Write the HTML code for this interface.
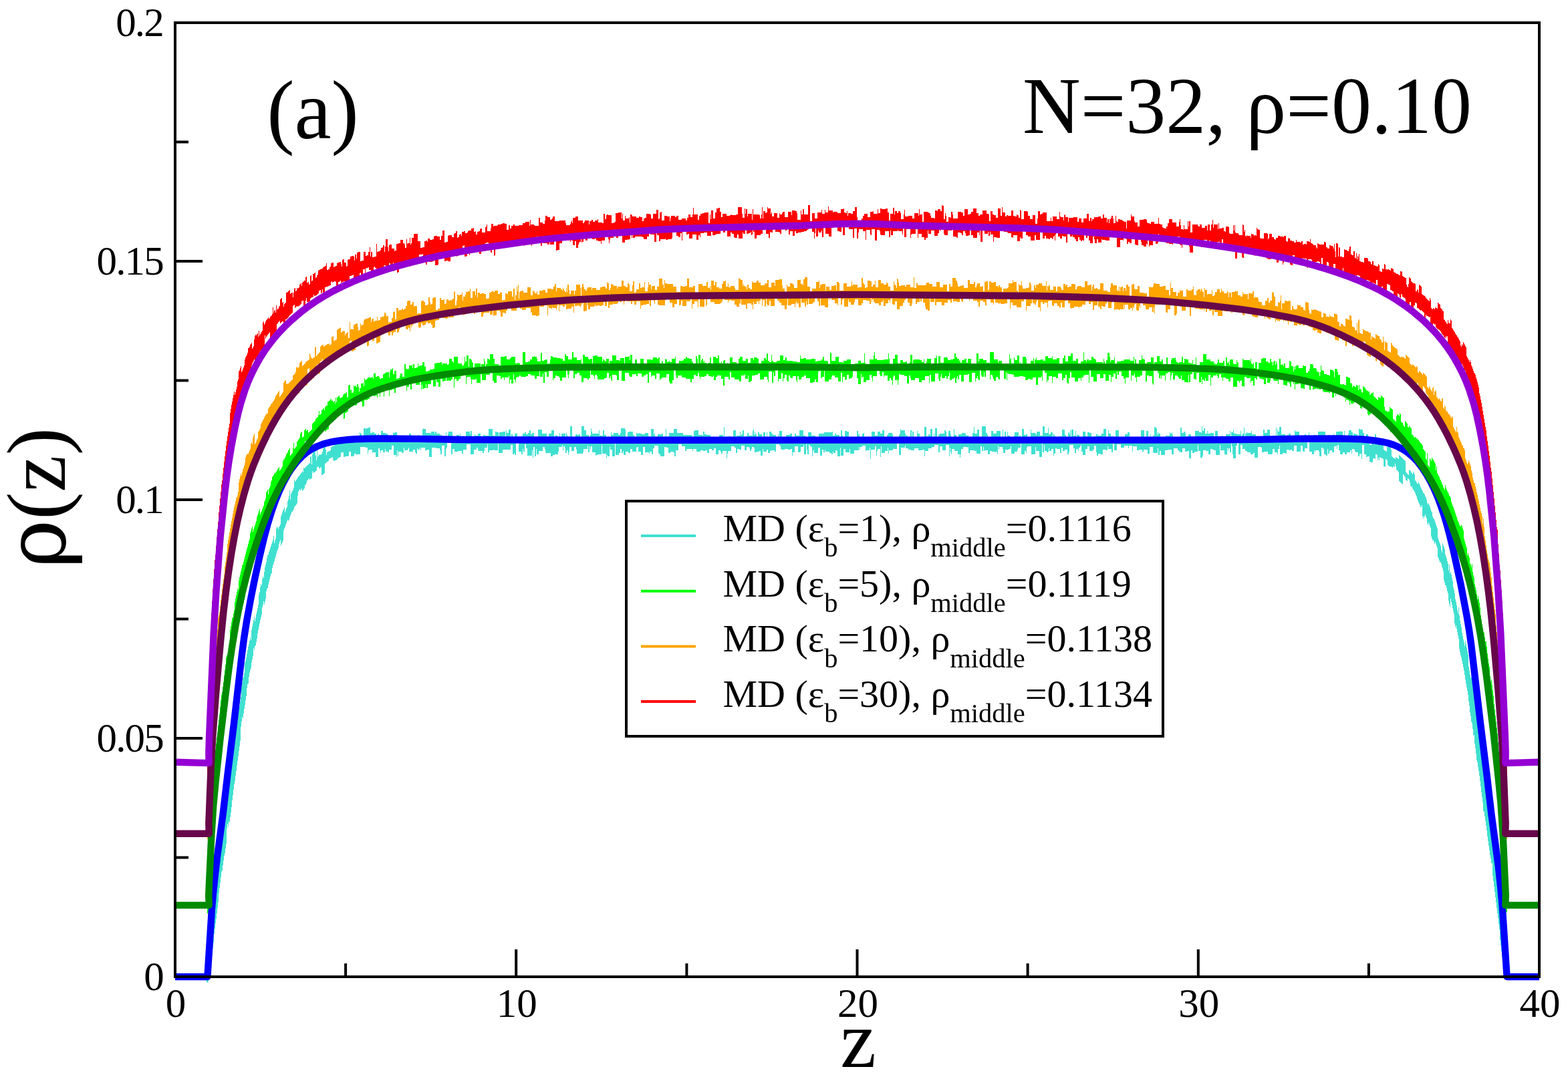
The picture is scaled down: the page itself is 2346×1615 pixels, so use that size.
<!DOCTYPE html>
<html><head><meta charset="utf-8"><style>html,body{margin:0;padding:0;background:#fff;overflow:hidden}svg{display:block}</style></head><body>
<svg width="2346" height="1615" viewBox="0 0 2346 1615">
<defs><clipPath id="c"><rect x="262" y="0" width="2041" height="1615"/></clipPath></defs>
<g clip-path="url(#c)" fill="none" stroke-linejoin="round">
<path d="M309,1447h1V1429h1V1418h1V1407h1V1398h1V1393h1V1384h1V1376h1V1362h1V1354h1V1346h1V1338h1V1330h1V1323h1V1315h1V1306h1V1298h1V1292h1V1284h1V1271h1V1263h1V1256h1V1249h1V1242h1V1235h1V1232h1V1225h1V1218h1V1211h1V1204h1V1191h1V1184h1V1177h1V1169h1V1161h1V1159h1V1150h1V1142h1V1132h1V1124h1V1117h1V1109h1V1102h1V1095h1V1087h2V1079h1V1068h1V1060h1V1057h1V1050h1V1043h1V1028h1V1021h1V1015h1V1013h1V1007h1V992h1V989h1V984h1V979h1V973h1V968h1V964h1V959h1V954h1V958h1V943h1V938h1V933h1V928h1V923h1V930h1V925h1V919h1V915h1V910h1V905h1V890h1V886h1V879h1V874h1V876h1V867h1V863h1V865h1V856h1V849h1V845h1V841h1V835h1V831h1V830h1V826h1V823h1V820h1V817h1V814h1V811h1V808h1V802h1V813h1V809h1V806h1V791h1V788h1V790h1V792h1V789h1V787h1V785h1V773h1V770h1V767h1V764h1V762h1V759h1V767h1V764h1V761h1V759h1V750h1V747h1V742h1V734h1V748h1V739h1V737h1V735h1V733h1V730h1V718h1V721h1V720h1V718h1V717h1V715h1V713h2V711h1V710h1V708h1V707h1V705h1V707h1V700h1V701h1V700h1V699h1V698h1V697h1V696h1V695h1V693h1V694h1V684h1V683h1V695h1V680h1V676h1V675h1V674h1V673h1V682h1V689h1V674h1V684h1V682h1V681h1V680h1V681h1V680h1V679h1V676h1V672h1V667h3V673h1V681h1V677h1V676h2V675h2V674h1V669h2V668h2V667h2V660h2V659h1V655h2V657h2V656h2V660h2V659h3V658h1V661h2V660h1V659h2V658h3V661h1V655h3V653h2V652h3V663h1V653h4V647h1V649h2V655h3V641h3V642h1V641h3V640h2V639h1V648h3V647h3V649h3V657h2V650h1V649h1V652h3V645h3V648h4V649h3V652h6V653h2V648h3V647h3V657h5V654h7V653h4V654h2V649h3V656h5V655h5V651h2V657h2V658h3V642h5V648h7V649h1V646h5V649h1V646h2V649h5V651h3V655h6V647h1V656h2V649h1V646h6V653h6V651h4V662h1V649h1V654h4V658h2V655h2V646h6V650h1V645h2V660h4V650h1V652h4V649h4V655h3V658h1V651h3V652h5V642h6V652h4V646h2V647h3V652h1V647h5V646h4V653h1V644h1V648h3V643h3V657h1V650h2V656h3V649h4V656h6V652h1V660h1V649h3V647h2V650h3V648h2V644h2V650h2V648h3V656h6V643h6V649h7V653h2V654h1V649h4V644h4V653h2V651h1V652h2V656h3V648h1V657h2V649h6V659h1V648h1V651h1V653h2V654h2V638h3V654h5V650h2V651h3V650h2V654h2V638h4V644h3V651h4V655h2V651h1V641h1V646h1V649h10V644h1V652h5V644h2V651h3V654h3V653h1V663h3V647h1V651h3V648h7V651h3V648h1V641h6V643h1V661h3V647h2V646h6V651h2V658h3V648h1V649h3V648h1V649h3V650h5V648h5V653h4V642h4V651h1V648h1V653h4V650h6V649h2V657h1V653h3V642h1V662h2V653h2V648h7V642h5V648h9V651h13V653h3V645h2V644h5V651h6V652h1V646h2V650h3V651h6V657h2V656h6V657h5V651h6V659h1V639h1V658h2V654h2V653h6V658h3V644h4V654h1V652h5V646h1V652h1V650h2V644h2V653h5V648h2V652h6V645h1V642h1V651h1V647h1V650h2V656h2V647h2V650h4V663h2V647h3V654h2V647h1V658h3V646h3V649h2V651h5V658h3V650h1V657h1V645h4V661h6V651h6V649h3V656h3V654h1V649h2V652h5V644h6V652h3V657h4V647h5V652h6V656h5V649h8V647h12V646h1V652h3V649h2V651h5V657h2V644h2V652h1V658h3V645h3V646h3V659h6V655h2V656h4V645h2V651h1V649h1V656h4V649h2V648h1V658h2V654h2V658h2V654h5V646h5V652h4V646h4V649h3V644h3V654h4V651h2V648h6V650h1V659h1V655h4V657h3V655h1V651h1V649h1V642h1V644h6V649h1V652h3V655h1V656h3V644h2V660h1V646h2V654h5V645h1V649h3V659h6V663h1V639h3V653h3V650h2V652h1V642h3V656h2V649h1V657h1V641h3V655h2V650h1V651h1V649h7V644h2V646h1V658h3V645h3V650h1V656h3V657h1V642h1V651h3V657h3V650h5V648h5V649h1V652h3V651h1V654h6V648h2V639h1V649h4V643h3V659h2V656h2V638h6V648h2V651h1V663h5V645h3V649h5V645h6V658h3V643h1V654h2V646h2V656h2V646h1V652h3V655h3V660h3V652h1V647h6V657h1V652h2V656h2V642h3V651h3V650h2V654h5V643h1V648h6V649h1V651h1V646h5V652h4V638h3V648h5V640h1V650h3V647h3V655h1V649h1V651h1V653h2V654h3V653h6V643h4V651h2V657h3V648h1V647h1V650h1V644h1V656h1V643h3V653h1V652h2V645h1V659h1V651h4V658h5V646h4V652h1V653h2V647h3V648h3V655h3V653h4V650h1V649h1V652h6V649h3V642h4V654h3V644h1V649h3V653h4V658h3V644h5V655h3V656h4V654h2V650h4V647h3V655h3V660h1V656h1V657h1V654h6V660h1V654h1V657h3V644h5V656h2V655h1V645h3V654h3V650h1V657h3V652h2V639h2V641h2V651h1V647h1V649h3V657h3V654h5V652h6V647h1V649h2V647h1V651h1V655h6V663h5V640h2V648h3V646h2V648h1V653h4V650h4V654h3V656h3V645h6V647h3V648h1V638h1V645h2V641h2V649h3V645h1V649h4V648h5V656h2V645h4V659h6V651h1V655h5V650h6V645h1V658h1V647h3V643h1V649h4V650h6V645h1V654h1V651h1V649h2V640h1V654h1V649h2V647h1V648h6V645h1V650h6V657h4V656h6V655h1V643h2V648h4V643h4V655h3V653h1V652h5V640h1V657h1V643h1V646h2V639h3V650h6V657h2V651h3V649h3V656h6V644h1V646h6V659h3V655h5V650h2V662h2V656h2V647h1V658h4V655h3V651h4V654h2V646h11V654h3V651h3V657h6V649h1V652h3V646h6V645h1V646h3V656h2V645h1V654h5V649h1V644h4V647h2V653h1V649h3V650h3V654h2V642h2V643h4V648h2V659h2V660h1V650h3V654h2V665h1V666h2V663h1V664h2V665h2V650h2V662h1V663h3V664h1V658h1V659h1V665h1V666h2V667h1V673h1V674h1V675h2V676h1V669h2V668h1V669h1V670h2V673h1V683h1V684h1V685h1V686h2V687h1V684h1V685h1V686h2V687h1V681h1V682h1V683h1V684h1V685h1V686h1V687h1V688h1V689h1V690h1V706h1V708h1V709h1V710h1V711h1V703h1V704h1V705h1V707h1V708h1V710h1V706h1V708h1V710h1V719h1V720h1V722h1V724h2V721h1V724h1V726h1V729h1V731h1V733h1V735h1V738h2V740h1V743h1V745h1V748h1V753h1V755h1V753h1V756h1V759h1V762h1V765h1V767h1V773h1V776h2V779h1V782h1V785h1V788h1V791h1V805h1V808h1V811h1V814h1V817h1V823h1V827h1V813h1V816h1V819h1V822h1V830h1V833h1V836h1V840h1V844h1V854h1V845h1V858h1V856h1V860h1V865h1V870h1V879h1V883h1V888h1V897h1V901h1V906h1V913h1V918h1V909h1V921h1V929h1V934h1V939h1V947h1V952h1V957h1V962h1V967h1V959h1V964h1V969h1V974h1V980h1V998h1V1004h1V1010h1V1015h1V1013h1V1019h1V1026h1V1033h1V1040h1V1047h1V1056h1V1064h1V1072h1V1080h1V1088h1V1096h1V1104h1V1111h1V1119h1V1126h1V1134h1V1141h1V1148h1V1157h1V1165h1V1173h1V1180h1V1188h1V1194h1V1203h1V1208h1V1215h1V1222h1V1229h1V1239h1V1246h1V1253h1V1260h1V1267h1V1274h1V1282h1V1289h1V1297h1V1305h1V1314h1V1322h1V1330h1V1338h1V1346h1V1354h1V1362h1V1372h1V1380h2V1390h1V1399h1V1409h1V1420h1V1440h1V1463h-2V1464h-1V1462h-1V1454h-1V1445h-1V1443h-1V1434h-1V1433h-1V1424h-1V1415h-1V1407h-1V1391h-1V1383h-1V1374h-1V1367h-1V1359h-1V1351h-1V1343h-1V1335h-1V1327h-1V1319h-1V1311h-1V1292h-2V1285h-1V1280h-1V1273h-1V1266h-1V1259h-1V1252h-1V1243h-1V1236h-1V1229h-1V1222h-1V1215h-1V1214h-1V1201h-1V1193h-1V1186h-1V1177h-1V1169h-1V1161h-1V1154h-1V1148h-1V1141h-1V1138h-1V1128h-1V1120h-1V1113h-1V1100h-1V1101h-1V1091h-1V1083h-1V1080h-1V1072h-1V1066h-1V1056h-1V1050h-1V1040h-1V1034h-1V1029h-1V1023h-1V1017h-1V1010h-1V1004h-1V999h-1V994h-1V989h-1V984h-1V981h-1V976h-1V971h-1V956h-1V951h-1V946h-1V941h-1V936h-1V939h-1V933h-1V919h-1V915h-1V910h-1V905h-1V901h-1V896h-1V908h-1V904h-1V899h-1V888h-1V885h-1V880h-1V876h-2V872h-1V868h-1V855h-1V851h-1V848h-1V844h-1V841h-1V842h-1V839h-1V836h-1V834h-1V820h-1V817h-1V814h-1V811h-1V814h-1V811h-1V808h-1V809h-1V806h-1V803h-1V790h-1V788h-1V785h-1V782h-1V786h-1V783h-1V776h-1V773h-1V770h-1V774h-1V772h-1V776h-1V773h-1V756h-1V759h-2V756h-1V754h-1V752h-1V749h-1V747h-1V743h-1V741h-1V738h-1V736h-1V734h-1V733h-1V731h-1V728h-1V729h-1V727h-1V722h-1V718h-1V717h-1V716h-1V720h-1V719h-2V714h-1V713h-1V711h-1V710h-1V725h-1V724h-1V723h-1V722h-1V721h-1V720h-1V707h-1V705h-1V704h-1V703h-1V698h-1V694h-1V699h-1V698h-2V700h-1V699h-1V698h-1V699h-1V698h-2V697h-1V696h-1V689h-1V688h-1V687h-1V699h-1V698h-2V687h-1V686h-2V685h-2V684h-1V689h-1V685h-1V689h-1V681h-1V680h-2V687h-1V686h-3V692h-3V691h-2V683h-3V684h-2V680h-3V666h-3V687h-1V679h-3V683h-2V677h-3V676h-2V673h-1V672h-3V679h-1V674h-2V677h-5V680h-3V677h-3V680h-4V674h-2V666h-2V672h-1V667h-1V668h-3V677h-3V674h-3V675h-1V679h-2V672h-1V682h-2V680h-3V671h-1V673h-1V670h-2V683h-3V676h-1V674h-5V677h-1V674h-1V680h-3V676h-4V662h-3V671h-4V676h-2V675h-1V667h-3V676h-6V667h-4V675h-3V673h-2V674h-2V673h-4V679h-2V678h-4V680h-4V667h-1V672h-2V680h-1V677h-4V672h-3V679h-1V680h-6V676h-6V677h-3V670h-1V669h-5V685h-5V678h-2V680h-4V677h-5V675h-3V672h-4V666h-3V680h-3V663h-2V667h-2V686h-4V680h-1V668h-1V664h-1V677h-2V671h-2V675h-1V671h-1V681h-1V680h-3V674h-6V666h-1V681h-6V674h-3V673h-2V672h-3V680h-3V675h-4V673h-1V674h-3V682h-1V685h-3V675h-3V666h-1V676h-5V678h-3V674h-2V686h-3V675h-3V676h-3V671h-4V677h-3V676h-2V674h-2V671h-6V680h-3V673h-6V674h-4V681h-6V675h-2V681h-2V671h-1V678h-6V677h-1V669h-5V679h-3V673h-6V676h-2V673h-5V674h-3V668h-6V676h-1V667h-5V671h-1V667h-6V670h-5V665h-6V674h-4V664h-2V677h-2V672h-5V668h-1V674h-2V673h-5V680h-4V679h-3V682h-2V677h-1V667h-3V673h-2V675h-5V668h-3V672h-3V681h-4V676h-2V666h-1V668h-1V670h-2V675h-1V672h-3V678h-2V671h-2V666h-6V677h-1V680h-2V673h-4V675h-3V670h-2V678h-2V672h-5V671h-2V679h-2V682h-1V672h-3V675h-3V671h-1V676h-1V677h-2V675h-3V666h-1V677h-2V662h-1V684h-4V675h-5V669h-1V680h-6V668h-6V670h-1V678h-1V675h-2V680h-5V664h-1V670h-4V673h-1V676h-4V679h-5V668h-1V672h-3V673h-5V678h-3V672h-1V669h-5V673h-1V667h-1V680h-1V676h-2V677h-1V676h-5V675h-3V680h-3V674h-5V675h-1V669h-1V675h-2V668h-2V679h-6V675h-3V674h-7V678h-2V669h-1V670h-1V669h-6V672h-3V680h-1V685h-1V680h-3V675h-5V672h-4V680h-1V677h-1V670h-1V683h-1V666h-5V674h-5V668h-4V677h-2V666h-6V669h-4V671h-5V675h-5V683h-1V673h-3V674h-6V671h-6V674h-5V673h-4V671h-4V667h-1V670h-6V681h-3V664h-3V672h-6V674h-6V679h-1V670h-1V675h-4V678h-5V668h-1V684h-1V672h-4V675h-1V682h-1V668h-2V673h-6V687h-1V670h-1V674h-5V675h-1V667h-5V669h-3V673h-1V669h-1V674h-7V679h-6V672h-1V677h-6V672h-3V682h-4V670h-1V683h-4V675h-1V674h-2V678h-3V676h-1V680h-2V678h-3V676h-6V673h-1V677h-2V673h-2V682h-3V670h-3V678h-6V673h-1V675h-1V683h-1V669h-1V668h-2V666h-2V680h-2V673h-1V665h-1V680h-3V666h-1V669h-4V676h-1V677h-3V668h-5V677h-3V682h-1V672h-2V673h-4V672h-5V673h-5V672h-1V667h-2V665h-5V676h-2V674h-6V675h-1V678h-3V673h-2V676h-5V672h-1V682h-3V675h-2V676h-4V677h-3V671h-1V669h-3V672h-1V675h-2V671h-1V669h-4V674h-3V667h-5V673h-3V672h-3V678h-2V670h-2V668h-5V675h-5V679h-1V686h-1V675h-6V679h-2V676h-1V674h-3V680h-4V671h-3V674h-3V672h-4V678h-3V674h-3V675h-3V674h-4V676h-6V672h-5V675h-1V672h-9V675h-2V668h-5V665h-5V674h-4V683h-2V677h-2V676h-4V678h-3V670h-3V669h-3V683h-6V680h-2V678h-1V667h-6V671h-2V680h-2V676h-3V679h-1V677h-6V669h-3V681h-3V676h-4V669h-2V670h-1V676h-6V672h-3V678h-3V676h-4V681h-3V675h-1V678h-2V672h-2V678h-2V681h-5V661h-1V683h-4V673h-3V669h-1V683h-3V681h-1V686h-1V679h-6V666h-1V680h-6V681h-2V682h-1V677h-5V668h-2V672h-1V668h-1V677h-2V667h-1V672h-6V677h-1V679h-9V673h-1V669h-3V675h-4V669h-3V677h-1V681h-1V674h-2V678h-2V671h-1V668h-2V674h-1V666h-1V669h-5V676h-1V680h-5V681h-3V683h-3V678h-6V679h-1V677h-1V672h-1V669h-3V675h-6V680h-3V672h-1V683h-2V669h-2V685h-1V674h-1V682h-7V671h-2V665h-2V676h-2V672h-1V680h-2V676h-4V661h-4V681h-2V678h-1V680h-2V666h-3V673h-12V678h-6V664h-1V674h-6V673h-1V674h-6V677h-2V665h-1V670h-4V675h-1V678h-2V675h-6V674h-1V670h-2V673h-4V680h-5V665h-6V673h-5V679h-2V675h-6V676h-5V672h-3V680h-2V661h-5V662h-1V670h-1V672h-1V683h-2V667h-4V680h-2V674h-1V671h-6V670h-6V684h-4V673h-3V674h-3V670h-6V674h-1V670h-1V673h-3V671h-1V679h-2V677h-1V673h-3V676h-6V670h-1V672h-1V674h-5V670h-1V677h-1V678h-2V676h-5V682h-1V674h-1V684h-1V681h-4V667h-3V673h-4V678h-1V676h-3V675h-1V672h-1V677h-3V674h-3V678h-1V674h-1V671h-2V684h-4V677h-4V678h-1V673h-5V674h-1V679h-1V670h-3V669h-8V680h-5V681h-1V679h-3V682h-1V683h-4V676h-3V682h-1V683h-5V684h-2V677h-3V678h-1V684h-2V685h-2V686h-1V688h-2V689h-2V690h-2V688h-1V684h-1V685h-2V686h-2V687h-1V690h-1V691h-2V692h-1V693h-1V694h-1V708h-1V709h-1V710h-1V711h-2V699h-1V700h-1V701h-2V698h-1V699h-2V704h-1V705h-1V706h-1V707h-2V708h-1V705h-1V716h-2V717h-1V718h-1V716h-1V717h-1V719h-2V723h-1V725h-1V726h-1V731h-1V732h-1V734h-1V735h-1V731h-1V733h-1V734h-1V732h-1V734h-1V736h-1V742h-1V753h-1V755h-1V757h-2V759h-1V762h-1V764h-1V766h-2V769h-1V772h-1V774h-1V778h-1V780h-1V778h-1V780h-1V783h-1V786h-1V789h-1V791h-1V794h-1V809h-1V812h-1V814h-1V817h-1V808h-1V811h-1V814h-1V820h-1V823h-1V825h-1V829h-1V833h-1V836h-1V840h-1V843h-1V846h-1V850h-1V858h-1V859h-1V863h-1V867h-1V871h-1V875h-1V880h-1V881h-1V885h-1V896h-1V901h-1V905h-1V900h-1V905h-1V909h-1V920h-1V924h-1V928h-1V933h-1V938h-1V943h-1V948h-1V956h-1V961h-1V966h-1V967h-1V973h-1V970h-1V982h-1V987h-1V992h-1V1000h-1V1003h-1V1007h-1V1013h-1V1023h-1V1024h-1V1030h-1V1042h-1V1048h-1V1055h-1V1061h-1V1068h-1V1075h-1V1073h-1V1080h-1V1088h-1V1109h-1V1117h-1V1124h-1V1132h-1V1139h-1V1146h-1V1154h-1V1161h-1V1169h-1V1174h-1V1182h-1V1190h-1V1198h-1V1208h-1V1216h-1V1223h-1V1230h-2V1237h-1V1233h-1V1240h-1V1263h-1V1270h-1V1277h-1V1281h-1V1288h-1V1295h-1V1303h-1V1305h-1V1313h-1V1321h-1V1329h-1V1337h-1V1351h-1V1359h-1V1367h-1V1375h-1V1382h-1V1390h-1V1398h-1V1411h-1V1420h-1V1429h-1V1432h-1V1442h-1V1451h-1V1460h-1V1467h-1V1469h-1V1471h-1V1470h-1Z" fill="#40e0d0" stroke="none"/>
<path d="M310,1279h1V1257h1V1238h1V1221h1V1207h1V1195h1V1183h1V1172h1V1162h1V1152h1V1141h1V1132h1V1122h1V1113h1V1104h1V1096h1V1086h1V1077h1V1069h1V1058h1V1048h1V1040h1V1036h1V1028h1V1021h1V1011h1V1003h1V995h1V984h1V981h2V974h1V967h1V961h1V943h1V937h1V931h1V925h1V924h1V918h1V913h1V901h1V896h1V891h1V886h1V881h1V883h1V869h1V864h1V860h1V855h1V851h1V846h1V845h1V841h1V837h1V833h1V829h1V825h1V821h1V818h1V814h1V810h1V807h1V798h1V795h1V791h1V788h1V796h1V792h1V789h1V786h1V783h1V780h1V774h1V771h1V768h1V765h1V762h1V770h1V767h1V765h1V762h1V759h1V757h1V751h1V749h1V746h1V737h1V735h1V733h1V740h1V732h1V730h1V727h1V721h1V719h1V714h1V713h1V711h1V709h1V707h1V708h1V706h1V704h1V702h1V701h1V699h1V705h1V703h1V702h1V700h1V698h1V690h1V688h1V687h1V685h1V683h1V680h1V678h1V677h1V674h1V673h1V671h1V682h1V681h1V679h1V678h1V671h1V663h1V672h1V671h1V669h1V668h1V661h1V660h1V658h1V657h1V655h1V649h1V647h1V646h1V655h1V654h1V653h1V644h1V643h1V642h1V645h1V644h1V643h1V648h1V647h1V646h1V645h1V644h1V643h1V634h1V633h1V632h1V631h1V630h1V627h1V626h1V625h1V624h1V621h1V615h1V621h1V620h1V619h1V614h1V613h1V612h1V611h1V614h1V609h1V608h1V607h2V601h2V600h1V599h1V598h1V597h1V600h1V599h1V602h1V601h1V600h1V604h1V595h1V602h1V595h1V594h1V593h1V592h1V595h1V596h1V595h2V594h1V591h1V590h1V589h2V588h1V587h1V595h1V594h1V577h1V576h2V584h1V583h1V588h2V587h1V577h1V578h2V577h1V580h1V575h2V579h1V586h1V581h2V574h3V573h1V578h1V566h1V569h1V568h2V567h1V565h2V564h1V566h1V565h3V564h1V567h1V559h2V558h1V564h2V563h3V564h1V567h2V566h3V560h2V559h1V558h2V557h4V565h1V556h1V553h3V551h1V560h2V555h3V567h2V566h3V562h1V559h3V564h3V545h2V552h3V553h1V552h1V547h4V546h1V551h1V545h2V551h3V550h2V544h1V548h2V547h4V542h3V549h1V548h1V556h3V555h3V553h5V552h2V544h3V543h6V542h2V546h1V544h7V546h2V545h1V537h4V541h2V543h1V534h6V544h6V547h3V544h1V534h1V541h2V532h3V549h1V537h3V539h1V542h1V543h1V553h2V544h9V550h1V545h4V537h1V541h1V551h1V545h2V537h3V539h1V530h5V537h2V545h6V547h3V534h6V533h3V538h5V536h2V534h6V544h3V543h3V544h1V546h4V527h4V542h4V541h3V538h3V534h3V533h1V534h3V537h1V541h5V528h2V540h3V539h2V538h3V545h1V544h3V538h1V533h3V535h6V536h6V537h3V540h3V530h2V533h3V538h6V527h2V535h5V539h6V537h1V545h2V531h3V534h5V537h1V538h2V537h3V550h1V533h3V532h4V534h7V541h1V538h2V540h2V541h1V537h4V546h1V540h4V532h6V539h4V540h2V536h6V551h1V534h6V533h1V539h1V531h3V552h4V538h3V548h5V537h5V544h5V538h6V539h1V538h2V535h6V537h2V535h2V546h3V540h1V541h1V547h3V537h1V538h2V542h2V541h1V540h1V542h3V537h5V534h1V544h5V540h6V539h1V537h3V534h2V536h3V537h4V541h1V542h1V545h4V533h2V537h1V545h1V531h3V543h1V539h1V537h2V542h1V540h1V543h3V545h3V543h2V535h2V544h3V534h4V536h3V532h2V543h2V544h1V541h1V545h2V540h1V539h2V550h3V543h1V547h2V544h1V535h4V542h6V545h3V537h2V534h4V540h5V537h3V543h4V536h4V539h1V535h5V537h2V544h4V540h4V536h3V539h1V529h2V540h2V542h3V531h1V540h2V542h5V540h5V532h5V539h2V538h1V535h2V540h9V541h6V542h5V532h1V537h4V536h4V538h8V537h6V541h3V540h6V538h2V534h2V540h5V541h1V548h3V528h2V540h6V534h5V542h6V543h1V540h5V538h6V545h6V544h5V540h4V543h5V529h1V543h1V551h6V538h6V532h1V527h1V537h3V539h10V538h7V529h1V537h1V551h5V537h3V531h4V543h1V545h1V544h2V539h4V542h4V541h2V545h4V542h1V531h3V545h1V539h1V538h9V539h3V542h3V538h1V544h3V541h1V537h6V546h5V536h3V532h1V544h1V547h1V533h3V543h5V535h4V534h1V536h1V539h4V538h4V537h2V529h2V535h1V534h1V537h3V540h2V543h2V539h4V537h3V543h2V537h5V545h5V551h3V529h3V541h1V537h6V539h5V543h5V527h6V538h6V543h1V540h5V545h2V546h5V549h4V530h1V538h1V536h1V544h4V535h1V538h1V539h3V532h3V546h1V542h1V546h1V544h2V534h5V537h1V547h6V540h4V536h1V549h1V538h2V535h1V539h6V538h4V540h3V533h4V536h6V533h1V538h6V536h4V546h5V536h2V532h2V541h4V533h4V529h3V540h5V537h3V544h4V541h4V527h1V539h3V542h1V538h3V540h1V539h3V534h3V537h3V539h1V542h10V544h1V537h1V541h1V547h2V539h2V528h3V534h1V542h1V539h5V535h1V546h3V541h6V540h5V538h9V540h5V534h1V546h1V538h2V545h4V539h4V532h1V537h2V538h2V544h3V542h6V535h4V546h1V542h4V533h4V541h3V538h2V546h5V535h2V546h5V539h1V536h5V535h1V539h1V542h2V543h2V542h4V534h2V543h2V537h3V538h3V543h3V544h3V539h1V545h4V535h1V548h5V542h5V530h5V538h6V541h5V543h1V545h4V543h1V538h2V543h6V540h2V551h2V535h2V543h2V541h1V546h1V538h5V544h1V545h4V539h1V542h1V543h1V553h6V537h1V538h1V539h9V541h1V537h1V544h1V545h2V543h1V551h2V542h3V554h1V552h1V543h4V537h2V536h5V541h3V542h1V543h2V537h2V542h2V547h1V542h1V540h2V546h1V541h1V544h1V553h3V537h2V546h3V545h1V548h1V544h2V551h5V550h1V540h1V541h2V548h3V556h1V549h1V553h1V548h2V546h1V547h2V551h6V547h2V548h3V558h3V555h1V556h1V552h1V545h4V546h1V551h4V552h1V556h2V557h2V563h1V557h1V547h1V554h2V555h2V560h4V561h3V562h2V553h2V554h3V556h1V565h1V552h3V553h1V557h1V561h3V575h2V576h1V575h3V576h2V577h1V564h3V565h2V566h1V573h1V574h2V580h1V577h1V578h2V579h2V576h1V577h2V584h1V576h1V582h2V583h1V587h1V588h1V578h1V579h1V580h2V583h1V584h1V585h2V586h2V590h1V591h1V588h1V589h1V588h1V587h1V593h1V594h1V595h1V596h1V597h1V598h1V599h1V594h1V595h2V596h1V592h1V593h1V594h1V595h1V596h1V609h1V614h1V615h2V616h1V617h1V615h1V616h1V609h1V611h2V612h1V613h1V627h1V628h1V629h1V630h1V631h1V623h1V620h1V621h2V623h1V619h1V620h1V632h2V633h1V636h1V638h1V639h1V630h1V631h1V633h1V634h1V639h1V640h1V637h1V639h1V640h1V641h1V650h1V651h1V652h1V654h1V655h1V654h1V655h1V657h1V656h1V658h1V659h1V660h1V662h1V663h1V664h1V665h1V667h1V672h1V673h1V675h1V676h1V687h1V688h1V678h1V696h1V697h1V699h1V686h1V688h1V690h1V685h1V687h1V688h1V690h1V692h1V694h1V704h1V698h1V708h1V710h1V712h1V714h1V717h1V719h1V721h1V724h1V726h1V729h1V731h1V733h1V726h1V730h1V733h1V735h1V737h1V739h1V742h1V743h1V745h1V751h1V754h1V757h1V759h1V762h1V765h1V768h1V771h1V774h1V777h1V780h1V782h1V785h1V788h1V787h1V786h1V787h1V791h1V794h1V806h1V810h1V813h1V817h1V820h1V831h1V828h1V832h1V835h1V843h1V845h1V849h1V844h1V856h1V861h1V865h1V874h1V879h1V883h1V889h1V897h1V892h1V897h1V902h1V909h1V921h1V927h1V934h1V940h1V946h1V947h1V954h1V960h2V968h1V978h1V986h1V993h1V998h1V1012h1V1020h1V1017h1V1025h1V1033h1V1041h1V1054h1V1062h1V1071h1V1080h1V1089h1V1098h1V1111h1V1128h1V1138h1V1147h1V1157h1V1166h1V1176h1V1174h1V1194h1V1206h1V1229h1V1245h1V1251h1V1276h1V1365h-1V1366h-1V1367h-2V1321h-1V1301h-1V1280h-1V1262h-1V1246h-1V1225h-1V1212h-1V1201h-1V1190h-1V1180h-1V1171h-1V1164h-1V1155h-1V1141h-1V1132h-1V1122h-1V1117h-1V1107h-1V1099h-1V1090h-1V1082h-1V1072h-1V1065h-1V1060h-1V1039h-1V1042h-1V1034h-1V1026h-1V1019h-1V1006h-1V998h-1V991h-2V984h-1V978h-1V971h-1V957h-1V951h-1V945h-1V940h-1V934h-1V935h-1V937h-1V921h-1V916h-1V911h-1V906h-1V901h-1V897h-1V893h-1V898h-1V888h-1V884h-1V879h-1V875h-1V871h-1V855h-1V851h-1V846h-1V853h-1V849h-1V845h-1V841h-1V837h-1V834h-1V838h-1V835h-1V831h-1V815h-1V811h-1V807h-1V813h-1V809h-1V806h-1V803h-1V800h-1V795h-1V786h-1V783h-1V780h-1V777h-1V774h-1V771h-1V768h-1V765h-1V763h-1V768h-1V766h-1V772h-1V769h-1V767h-1V749h-1V747h-1V745h-1V751h-1V749h-1V747h-1V745h-1V736h-1V734h-1V732h-1V730h-1V728h-1V739h-1V725h-1V723h-1V721h-1V719h-1V717h-1V716h-1V723h-1V721h-1V719h-1V714h-1V713h-1V711h-1V709h-1V708h-1V709h-1V707h-1V705h-1V700h-1V701h-1V699h-1V698h-1V696h-2V694h-1V693h-1V691h-1V682h-1V689h-1V688h-1V686h-1V685h-1V686h-1V685h-1V684h-1V672h-1V671h-1V669h-1V666h-1V665h-1V663h-1V662h-1V661h-2V662h-1V661h-1V657h-1V658h-1V657h-1V654h-1V653h-1V652h-1V651h-1V650h-1V652h-1V651h-1V650h-1V649h-1V648h-1V643h-1V642h-1V641h-1V646h-1V638h-1V637h-1V636h-2V647h-1V643h-1V642h-1V638h-1V637h-1V640h-1V639h-1V638h-1V637h-1V636h-1V630h-2V632h-1V631h-1V630h-1V629h-1V628h-2V626h-1V625h-1V624h-2V619h-1V618h-1V617h-1V614h-2V613h-1V612h-2V620h-2V622h-1V621h-1V620h-1V609h-1V605h-1V604h-2V603h-2V602h-1V607h-1V612h-1V611h-2V607h-1V606h-1V598h-2V597h-1V596h-1V601h-1V600h-2V604h-1V603h-1V605h-1V604h-2V600h-1V606h-1V600h-1V599h-2V598h-2V601h-1V595h-3V593h-2V589h-2V588h-1V589h-3V588h-2V589h-1V593h-1V586h-1V584h-1V595h-3V587h-1V586h-2V588h-2V587h-7V586h-2V580h-1V579h-2V583h-2V582h-4V581h-1V582h-3V583h-2V574h-1V576h-2V584h-1V583h-1V575h-1V568h-1V567h-5V582h-2V581h-4V572h-2V571h-1V575h-5V583h-1V568h-1V575h-1V570h-3V579h-2V574h-1V572h-3V577h-3V576h-3V567h-5V566h-2V575h-1V570h-6V569h-1V564h-4V570h-1V573h-4V566h-2V575h-3V568h-2V567h-4V566h-1V562h-3V568h-2V566h-2V577h-2V570h-3V573h-1V565h-1V566h-5V564h-3V579h-1V578h-3V569h-1V570h-2V573h-1V570h-3V579h-6V565h-4V571h-3V567h-4V565h-4V570h-1V565h-2V560h-3V566h-2V563h-1V560h-1V562h-5V565h-3V577h-1V561h-3V570h-4V566h-1V570h-2V568h-2V575h-1V564h-1V572h-3V558h-4V568h-2V567h-2V557h-2V560h-3V572h-2V561h-1V573h-1V572h-5V569h-4V562h-1V567h-3V565h-1V564h-1V562h-4V568h-3V558h-2V562h-1V569h-1V557h-4V559h-3V570h-1V562h-5V567h-1V562h-1V566h-2V558h-2V553h-6V576h-1V574h-1V563h-5V562h-3V571h-2V555h-5V562h-3V564h-5V572h-1V565h-2V559h-1V562h-4V570h-1V553h-1V554h-2V565h-5V574h-1V567h-2V563h-3V556h-4V561h-2V556h-1V567h-2V559h-3V564h-3V572h-1V561h-3V570h-5V560h-3V566h-5V560h-5V571h-5V564h-4V554h-2V573h-1V561h-6V562h-2V565h-3V570h-1V566h-4V571h-5V565h-5V557h-2V566h-2V574h-2V572h-1V561h-2V566h-3V569h-2V559h-6V566h-3V564h-5V573h-1V563h-5V569h-2V572h-1V558h-3V554h-3V570h-1V563h-1V565h-5V576h-3V565h-5V568h-4V567h-3V569h-4V564h-3V563h-6V564h-8V561h-2V560h-6V559h-2V569h-1V557h-1V567h-3V553h-6V568h-2V566h-1V564h-2V565h-1V570h-3V567h-1V564h-1V561h-3V568h-1V554h-6V564h-2V557h-1V564h-3V562h-1V552h-2V569h-2V567h-1V563h-1V566h-2V571h-1V558h-5V572h-4V560h-2V561h-6V571h-4V561h-3V568h-2V563h-1V566h-1V573h-2V565h-2V567h-3V569h-3V558h-1V563h-2V567h-2V563h-2V566h-5V560h-1V564h-1V570h-2V567h-1V559h-5V571h-6V561h-2V573h-1V563h-6V569h-5V572h-4V566h-6V569h-6V566h-1V562h-2V574h-3V563h-4V561h-6V560h-2V569h-1V576h-1V568h-1V569h-3V562h-2V565h-1V576h-1V569h-2V566h-2V570h-3V562h-5V564h-1V557h-2V563h-3V560h-1V554h-4V563h-6V571h-1V565h-1V561h-3V569h-5V572h-4V564h-2V566h-1V560h-1V575h-4V566h-2V553h-6V564h-1V566h-3V567h-2V561h-3V568h-1V569h-1V568h-1V564h-3V572h-1V558h-2V571h-4V565h-5V562h-4V564h-1V568h-4V571h-6V555h-1V564h-3V566h-2V555h-2V556h-2V572h-3V568h-2V572h-3V573h-4V566h-6V562h-3V564h-3V565h-1V568h-4V563h-2V572h-1V569h-1V563h-5V566h-3V565h-1V562h-2V571h-2V569h-1V561h-3V566h-2V571h-1V559h-1V558h-1V567h-4V571h-1V552h-4V563h-2V557h-1V573h-2V556h-5V572h-1V568h-1V564h-5V568h-6V559h-3V561h-4V562h-5V570h-2V572h-3V562h-1V567h-4V560h-1V562h-5V571h-3V568h-7V565h-5V557h-2V568h-2V564h-6V577h-2V567h-3V562h-6V564h-2V569h-3V562h-1V564h-3V563h-4V560h-3V563h-3V564h-6V567h-1V563h-1V558h-2V563h-3V561h-3V567h-3V572h-2V567h-7V565h-6V562h-6V566h-2V562h-1V552h-3V569h-2V574h-4V571h-1V560h-4V565h-7V567h-2V569h-1V559h-5V567h-2V562h-5V564h-1V557h-3V573h-2V560h-3V562h-3V564h-3V559h-6V563h-2V560h-6V564h-4V562h-1V558h-6V570h-5V555h-4V569h-3V562h-1V561h-6V570h-1V569h-1V563h-1V566h-2V558h-3V565h-1V566h-3V568h-10V563h-1V561h-3V567h-1V563h-1V561h-4V551h-1V566h-2V568h-2V566h-6V572h-3V562h-3V558h-4V560h-3V566h-2V554h-6V560h-1V566h-1V561h-1V553h-2V565h-6V570h-3V565h-2V563h-3V562h-2V566h-3V569h-1V551h-6V564h-3V557h-3V573h-2V559h-1V564h-4V552h-1V563h-4V567h-3V562h-6V560h-4V563h-3V564h-8V562h-2V564h-3V565h-2V572h-1V568h-2V560h-1V574h-3V568h-2V574h-1V562h-1V565h-6V569h-1V565h-3V567h-2V563h-2V562h-4V573h-4V570h-2V558h-4V561h-6V569h-6V560h-2V573h-6V567h-1V568h-6V575h-1V567h-1V564h-5V565h-1V575h-1V560h-5V563h-3V567h-2V568h-1V570h-3V567h-2V568h-1V580h-1V564h-2V568h-2V570h-3V569h-1V570h-3V563h-1V570h-3V571h-2V567h-3V579h-3V572h-3V567h-1V578h-3V579h-1V568h-3V575h-5V581h-2V575h-1V581h-3V582h-2V576h-1V583h-1V568h-2V576h-6V570h-1V571h-5V583h-2V573h-2V579h-3V585h-1V572h-2V573h-4V574h-4V578h-1V579h-5V588h-2V582h-1V583h-3V584h-3V593h-1V578h-1V579h-3V583h-1V584h-2V594h-1V579h-2V580h-3V594h-1V587h-1V588h-2V595h-1V592h-3V593h-2V589h-2V590h-3V591h-1V597h-2V598h-2V599h-2V598h-1V599h-1V608h-2V609h-1V602h-1V594h-1V595h-2V597h-1V598h-1V599h-2V606h-1V607h-2V603h-2V604h-2V605h-3V606h-1V607h-2V616h-2V617h-1V618h-2V626h-1V627h-1V617h-1V618h-1V617h-2V618h-1V619h-1V620h-1V619h-1V620h-2V621h-1V622h-1V626h-1V627h-1V628h-1V629h-1V630h-1V631h-1V632h-1V633h-1V634h-2V642h-1V643h-2V644h-1V645h-1V646h-1V638h-1V639h-1V640h-1V641h-1V642h-1V643h-1V648h-1V651h-1V643h-1V644h-1V646h-1V647h-1V648h-1V649h-1V652h-1V653h-1V654h-1V655h-1V652h-1V653h-1V660h-1V658h-1V665h-1V666h-1V667h-1V668h-1V669h-1V670h-1V672h-1V660h-1V671h-1V673h-1V672h-1V680h-1V681h-2V682h-1V676h-1V678h-1V679h-1V680h-1V684h-1V685h-1V687h-1V688h-1V699h-1V690h-1V691h-1V693h-1V694h-1V701h-1V703h-1V704h-1V706h-1V708h-1V709h-1V711h-1V713h-1V714h-1V719h-1V711h-1V713h-1V715h-1V717h-1V714h-1V715h-1V717h-1V719h-1V733h-1V726h-1V728h-1V730h-1V732h-1V743h-1V744h-1V746h-1V736h-1V738h-1V740h-1V752h-1V754h-1V757h-1V759h-1V761h-2V764h-1V766h-1V769h-1V773h-1V776h-1V778h-1V781h-1V784h-1V787h-1V790h-1V802h-1V805h-1V801h-1V804h-1V807h-1V810h-1V814h-1V817h-1V819h-1V830h-1V833h-1V830h-1V833h-1V834h-1V837h-1V841h-1V855h-1V848h-1V859h-1V863h-1V866h-1V870h-1V874h-1V878h-1V894h-1V898h-1V903h-1V907h-1V912h-1V902h-1V907h-1V912h-1V916h-1V925h-1V930h-1V935h-1V940h-1V946h-1V947h-1V946h-1V969h-1V975h-1V981h-1V978h-1V985h-1V992h-1V999h-1V1012h-1V1019h-1V1027h-1V1035h-1V1043h-1V1046h-1V1053h-1V1062h-1V1070h-1V1078h-1V1086h-1V1095h-1V1103h-1V1117h-1V1126h-1V1135h-1V1145h-1V1154h-1V1164h-1V1175h-1V1185h-1V1195h-1V1206h-1V1217h-1V1226h-1V1233h-1V1249h-1V1272h-1V1293h-1V1321h-1V1370h-1V1366h-1V1368h-1V1367h-1Z" fill="#00ff00" stroke="none"/>
<path d="M310,1131h1V1111h1V1094h1V1078h1V1064h1V1061h1V1050h1V1030h1V1019h1V1007h1V996h1V987h1V975h1V964h1V953h1V942h1V925h1V921h1V916h1V907h1V898h1V890h1V881h1V874h1V867h1V860h1V848h1V841h1V834h1V827h1V814h1V808h1V803h1V797h1V791h1V785h1V780h1V775h1V769h1V764h1V759h1V755h1V750h1V745h2V741h1V736h1V722h1V717h1V713h1V709h1V712h1V707h1V703h1V700h1V697h1V693h1V685h1V682h1V680h1V679h1V680h1V677h1V674h1V672h1V664h1V662h1V665h1V656h1V652h1V649h1V665h1V663h1V661h1V658h1V656h1V646h1V645h1V643h1V641h1V635h1V633h1V631h1V629h1V627h1V625h1V623h1V621h1V619h1V620h1V618h1V612h1V610h1V609h1V607h1V605h1V604h1V603h1V601h1V600h1V598h1V596h1V593h1V591h1V590h1V588h1V587h1V585h1V594h1V593h1V591h1V590h1V588h1V587h1V573h1V571h1V570h1V569h1V575h1V574h1V575h1V574h1V573h1V572h1V571h1V570h1V569h1V568h1V562h1V561h1V560h1V559h1V556h1V550h1V549h1V551h1V550h1V549h1V543h1V542h1V541h1V540h1V548h1V547h1V546h1V545h1V544h1V542h1V541h1V540h2V539h1V538h1V529h1V532h1V536h1V535h1V537h1V536h1V535h2V520h1V519h1V533h1V532h1V530h1V529h1V528h1V527h1V519h1V518h1V517h1V516h2V519h1V518h1V517h2V516h1V515h3V514h1V517h1V516h1V515h1V504h2V503h1V510h2V509h2V508h1V494h1V493h1V492h2V491h1V490h1V498h1V497h1V496h2V495h1V496h1V502h1V499h2V498h1V497h1V506h2V482h1V493h2V492h1V493h2V486h2V485h2V484h2V489h1V495h1V494h2V484h1V487h2V486h2V480h1V478h2V477h3V476h2V475h3V482h1V478h1V477h2V481h2V480h3V474h1V480h2V479h2V475h2V474h3V473h1V468h2V471h1V474h1V473h2V483h1V482h4V476h2V467h2V466h1V478h2V461h3V465h1V464h4V462h2V464h1V463h1V462h2V458h2V451h1V450h4V456h2V455h1V452h2V459h1V458h4V470h1V469h5V451h1V450h3V452h2V457h3V456h2V445h2V452h1V456h1V455h2V446h2V445h3V464h3V462h3V446h2V449h4V448h1V455h2V454h1V448h3V450h3V449h3V447h2V437h1V436h1V457h2V450h1V441h2V442h2V441h3V438h1V450h1V444h3V441h1V437h3V436h3V432h1V446h3V436h4V442h1V432h2V445h1V438h3V440h2V439h4V440h3V447h4V446h1V438h2V437h2V436h1V435h1V437h2V435h5V440h3V437h1V438h2V450h1V449h4V439h2V440h2V436h6V444h2V432h2V449h1V442h2V429h1V436h1V426h1V447h1V437h1V436h2V435h3V438h6V430h5V442h3V435h1V436h2V439h3V436h1V441h3V435h5V434h4V438h3V432h6V433h3V429h2V425h2V436h1V431h6V433h2V435h1V431h1V433h1V435h1V437h2V431h1V437h1V426h2V434h1V440h2V435h5V441h1V435h2V426h6V431h1V445h1V430h1V425h2V430h1V433h2V435h2V432h1V430h6V434h1V431h6V434h6V430h3V429h5V432h2V422h1V424h2V434h2V431h1V425h2V426h2V428h5V432h1V429h6V420h3V428h3V430h3V424h2V426h1V436h4V427h1V421h2V438h2V437h1V433h4V424h2V431h2V430h4V422h1V436h4V430h1V422h1V426h3V433h1V428h5V434h3V429h3V417h5V426h2V431h1V419h1V424h3V425h9V429h5V437h6V428h3V429h4V428h3V417h3V430h6V428h3V440h5V425h6V428h6V422h2V431h3V428h1V434h1V420h4V427h2V422h2V430h4V432h4V425h2V421h3V420h1V429h3V424h1V430h3V428h6V431h1V434h5V417h3V419h3V428h1V425h1V428h2V430h1V429h1V433h1V426h2V431h2V433h3V421h1V423h6V420h3V423h3V427h6V425h1V424h3V419h2V430h4V423h5V428h1V419h6V418h4V427h1V432h3V437h3V426h1V429h4V424h4V426h2V431h5V419h5V425h3V427h1V418h2V415h4V429h4V436h3V432h6V422h4V420h1V431h1V426h3V425h5V435h1V429h5V434h3V428h4V427h3V434h1V422h3V424h1V435h6V424h5V429h6V427h1V421h1V428h1V426h7V431h1V430h5V416h2V424h2V426h1V431h2V430h2V420h4V421h2V429h2V426h3V420h1V430h4V419h4V424h4V426h4V423h2V425h1V429h3V435h5V421h1V426h2V428h1V431h1V417h1V418h1V423h1V428h3V427h6V429h2V426h6V430h5V415h1V431h3V424h2V427h12V426h1V423h4V425h5V429h6V422h5V430h5V426h6V436h3V425h2V429h3V416h5V420h2V424h1V429h3V428h3V427h3V431h6V419h3V425h6V422h2V430h2V427h1V424h4V429h4V428h1V436h2V422h2V421h3V434h2V421h3V423h4V422h3V428h3V430h1V427h2V430h3V437h2V432h6V431h1V430h1V424h6V419h1V422h5V435h2V438h1V425h1V427h3V421h1V428h1V432h5V431h4V430h1V423h2V426h1V435h4V427h2V431h1V426h4V424h5V427h1V428h5V421h1V435h1V428h1V429h1V427h2V434h5V428h1V429h3V436h2V429h5V431h1V434h3V425h3V428h1V426h2V430h2V429h4V425h5V426h1V433h2V429h2V428h5V430h5V421h4V427h3V426h3V435h1V429h1V426h2V432h3V431h2V433h4V424h5V435h6V437h4V430h1V424h3V427h6V435h3V429h1V436h1V430h2V429h2V436h1V431h3V435h1V426h3V429h2V443h3V426h2V425h2V432h1V433h4V428h3V438h6V439h5V444h3V429h1V430h5V428h1V424h3V425h6V429h5V428h4V434h5V442h2V423h1V431h3V437h5V443h2V438h3V434h1V435h4V444h5V433h2V435h6V433h2V429h1V441h1V442h3V435h2V433h4V436h1V432h1V434h1V437h2V445h1V431h1V434h3V441h1V440h6V434h1V443h3V441h1V437h3V433h4V438h2V432h1V436h3V439h5V436h1V437h1V445h1V438h3V445h1V437h5V435h1V436h3V442h4V444h3V437h1V440h4V441h1V440h2V448h1V439h5V440h1V436h2V446h1V444h1V445h4V447h1V451h1V452h4V457h5V450h2V451h1V446h2V453h2V450h3V437h1V438h2V444h2V458h3V459h1V452h1V453h2V450h1V442h1V463h1V454h4V450h3V451h3V450h2V451h1V464h2V458h2V462h1V463h4V462h1V456h1V457h4V460h1V459h1V460h2V464h2V465h1V452h2V453h3V464h1V469h2V470h1V463h1V464h3V463h2V464h3V465h2V466h3V467h1V475h3V468h1V469h2V470h1V474h4V475h1V471h1V473h1V474h3V475h2V469h1V470h3V471h1V481h1V482h2V488h1V489h1V484h1V485h2V486h1V488h2V489h1V477h2V478h3V479h1V472h2V473h1V480h1V489h2V490h2V494h2V495h1V483h1V499h1V480h1V478h1V498h1V499h2V500h2V492h1V494h2V495h2V496h3V497h1V498h3V508h1V503h1V504h1V505h2V506h1V507h1V500h1V501h1V502h2V503h2V507h1V508h1V509h1V512h1V513h1V504h1V511h1V524h1V511h1V512h1V513h2V525h1V526h2V527h1V528h1V513h1V514h1V517h1V518h1V519h1V520h1V521h2V522h1V523h1V531h1V532h1V533h1V534h1V535h1V534h2V535h1V534h1V535h1V536h1V537h1V531h1V532h1V533h1V534h1V535h1V536h1V544h1V545h1V546h1V547h1V545h1V546h1V547h1V548h1V549h1V550h1V548h1V549h1V557h1V558h1V555h1V556h1V557h1V558h1V559h1V561h1V558h1V559h1V560h1V561h1V563h1V564h1V579h1V580h1V582h1V578h1V580h1V583h1V584h1V586h1V581h1V579h1V591h1V586h1V584h1V586h1V594h1V595h1V597h1V598h1V596h1V598h1V600h1V601h1V596h1V597h1V610h1V612h1V607h1V609h1V614h1V616h2V618h1V620h2V622h1V624h1V626h1V623h1V625h1V639h1V641h1V643h1V645h1V647h1V639h1V646h1V648h1V654h1V656h1V659h1V661h1V663h1V666h1V667h1V670h1V671h1V674h1V686h1V689h1V692h1V695h1V693h1V689h1V692h1V695h1V698h1V704h1V708h1V715h1V719h1V723h2V728h1V732h1V737h1V741h1V746h1V750h1V755h1V760h1V765h1V768h1V773h1V784h1V776h1V789h1V803h1V809h1V816h1V823h1V829h1V836h1V839h1V842h1V849h1V857h1V864h1V877h1V886h1V894h1V903h1V912h1V919h1V936h1V946h1V957h1V965h1V969h1V980h1V992h1V1003h1V1015h1V1027h1V1040h1V1053h1V1078h1V1092h1V1098h1V1115h1V1135h1V1256h-1V1259h-1V1260h-2V1253h-1V1163h-1V1134h-1V1117h-1V1102h-1V1088h-1V1075h-1V1067h-1V1054h-1V1043h-1V1031h-1V1023h-1V1012h-1V1000h-1V979h-1V970h-1V963h-1V953h-1V943h-1V937h-1V928h-1V919h-1V915h-1V907h-1V899h-1V884h-1V873h-1V867h-1V860h-1V853h-1V856h-1V849h-1V828h-1V839h-1V824h-1V818h-1V812h-1V807h-1V801h-1V784h-1V779h-1V774h-1V777h-1V772h-1V768h-1V763h-1V770h-1V766h-1V761h-1V757h-1V739h-1V735h-1V730h-1V726h-1V721h-1V717h-1V716h-1V708h-1V707h-1V710h-1V706h-1V703h-1V694h-1V692h-1V689h-1V694h-1V691h-1V688h-1V686h-1V683h-1V681h-1V679h-1V677h-1V674h-1V672h-1V660h-1V666h-1V664h-1V662h-1V656h-1V651h-1V648h-1V646h-1V644h-1V642h-1V653h-1V651h-1V649h-1V647h-1V645h-1V644h-1V633h-1V631h-1V630h-1V628h-1V630h-1V623h-1V622h-1V620h-1V619h-1V617h-2V616h-1V614h-1V613h-1V611h-1V610h-1V611h-1V615h-1V613h-1V612h-1V610h-1V609h-1V608h-1V592h-1V591h-1V590h-1V588h-1V582h-1V581h-1V579h-1V578h-1V586h-1V585h-1V583h-1V582h-1V581h-1V592h-1V591h-1V574h-1V573h-1V579h-1V578h-1V577h-1V576h-1V575h-1V574h-1V570h-1V569h-1V568h-1V567h-1V565h-1V564h-1V575h-2V564h-1V563h-1V567h-1V566h-1V565h-1V568h-1V567h-2V566h-1V558h-1V561h-1V560h-2V559h-1V558h-1V557h-1V553h-1V554h-1V553h-1V552h-1V554h-1V553h-2V548h-2V547h-1V546h-1V545h-1V544h-1V543h-2V542h-2V539h-1V544h-1V543h-1V549h-1V548h-1V547h-2V545h-1V538h-1V531h-2V530h-1V529h-1V541h-1V540h-1V528h-1V530h-1V529h-1V533h-1V532h-2V531h-1V534h-2V533h-2V532h-1V531h-1V527h-1V526h-1V512h-1V511h-2V515h-2V514h-2V513h-1V521h-2V520h-1V519h-1V518h-2V509h-1V511h-2V510h-1V518h-2V507h-2V514h-2V513h-1V501h-1V500h-2V518h-2V510h-3V509h-2V502h-2V501h-3V510h-2V509h-3V508h-1V500h-1V499h-1V497h-3V496h-3V499h-2V498h-3V497h-1V492h-2V491h-3V490h-1V499h-3V498h-3V494h-3V495h-2V494h-2V490h-3V489h-3V480h-2V479h-4V487h-3V482h-1V484h-1V487h-1V486h-3V485h-2V488h-1V487h-4V478h-3V482h-2V481h-3V486h-1V481h-1V480h-4V477h-1V481h-1V478h-3V479h-2V481h-1V480h-3V479h-2V482h-1V472h-2V471h-2V469h-3V478h-2V477h-2V476h-2V468h-1V467h-1V477h-1V465h-2V464h-1V471h-2V472h-1V471h-2V468h-1V467h-1V475h-4V474h-3V473h-2V469h-5V462h-5V461h-1V472h-2V471h-1V466h-1V467h-5V466h-1V461h-2V460h-1V463h-5V468h-2V462h-5V466h-5V465h-3V473h-7V467h-5V463h-1V472h-2V459h-1V465h-4V456h-3V467h-2V460h-2V465h-1V459h-1V463h-6V462h-6V458h-3V459h-2V457h-1V473h-2V458h-6V465h-6V457h-1V460h-1V455h-2V456h-3V469h-1V472h-3V447h-6V463h-4V468h-2V467h-1V456h-1V455h-1V454h-6V456h-8V469h-1V460h-1V467h-2V460h-5V463h-5V457h-4V452h-2V450h-2V461h-1V458h-1V465h-3V464h-1V454h-1V455h-1V456h-1V461h-1V459h-1V465h-1V461h-3V463h-3V456h-5V462h-1V456h-1V463h-4V462h-1V464h-2V463h-6V464h-1V444h-2V451h-1V453h-1V461h-5V449h-2V454h-2V459h-4V458h-2V463h-1V462h-1V459h-3V449h-1V457h-5V464h-2V452h-3V455h-3V451h-5V456h-5V459h-4V460h-2V459h-6V461h-3V462h-1V461h-2V454h-3V449h-1V450h-4V460h-4V453h-2V460h-1V461h-1V458h-3V454h-5V458h-2V457h-1V450h-5V451h-1V460h-1V453h-5V455h-2V452h-3V466h-1V460h-3V449h-2V452h-1V456h-2V454h-2V453h-1V448h-1V454h-2V458h-6V465h-1V446h-3V451h-4V460h-7V457h-6V453h-3V462h-1V447h-4V454h-4V455h-6V453h-1V454h-1V455h-1V453h-5V444h-2V456h-1V453h-4V448h-5V443h-1V457h-2V452h-3V450h-5V459h-2V452h-2V450h-6V446h-1V443h-4V450h-1V445h-6V447h-3V452h-2V450h-1V447h-2V452h-4V451h-6V444h-2V453h-2V449h-4V453h-5V457h-4V452h-8V457h-2V444h-1V452h-6V447h-1V465h-3V463h-3V459h-1V453h-3V445h-2V451h-2V445h-1V452h-4V455h-2V447h-5V454h-1V458h-3V453h-3V446h-3V449h-2V453h-2V458h-5V463h-4V451h-3V456h-3V455h-1V445h-2V448h-1V453h-1V449h-2V454h-4V458h-3V449h-1V452h-3V457h-3V454h-6V452h-2V448h-2V452h-1V444h-1V455h-2V450h-5V449h-5V454h-2V457h-5V448h-5V452h-1V456h-5V452h-3V448h-1V459h-6V445h-1V448h-2V456h-2V446h-4V457h-1V454h-4V449h-5V444h-3V449h-1V446h-1V460h-5V457h-6V446h-1V458h-2V451h-2V443h-4V452h-2V454h-2V455h-5V447h-1V456h-2V451h-1V460h-1V458h-1V453h-5V442h-1V460h-3V454h-3V451h-1V454h-1V460h-1V455h-5V457h-5V440h-1V456h-1V463h-3V457h-5V453h-3V450h-3V446h-4V458h-6V450h-2V457h-3V455h-1V444h-1V458h-1V459h-1V449h-3V458h-1V448h-1V444h-1V450h-2V455h-1V451h-3V455h-4V452h-1V463h-1V456h-2V454h-6V462h-2V456h-7V448h-1V454h-2V459h-4V456h-3V450h-5V449h-3V450h-1V453h-1V449h-5V445h-3V451h-1V453h-2V455h-9V452h-6V447h-5V456h-1V458h-1V444h-2V459h-1V460h-1V459h-5V447h-2V460h-1V451h-5V455h-3V462h-1V448h-2V451h-6V458h-6V450h-2V456h-1V457h-2V448h-3V455h-4V460h-3V453h-4V447h-5V449h-2V457h-9V456h-2V445h-2V449h-2V455h-1V451h-1V446h-3V449h-1V458h-2V443h-1V455h-4V456h-5V457h-3V462h-1V451h-6V456h-3V451h-3V455h-2V451h-6V450h-3V451h-1V456h-1V444h-3V452h-3V445h-1V446h-1V454h-2V455h-5V454h-1V456h-5V461h-2V451h-2V458h-3V452h-2V457h-3V458h-3V457h-3V458h-3V456h-1V458h-1V459h-6V463h-3V457h-1V448h-1V465h-2V466h-3V452h-1V454h-2V457h-1V460h-1V458h-2V457h-2V458h-4V450h-1V468h-1V459h-3V462h-6V463h-2V456h-2V459h-3V457h-5V466h-1V456h-2V459h-1V464h-1V461h-5V460h-1V462h-2V461h-3V458h-1V472h-1V457h-5V459h-6V452h-1V472h-2V473h-3V472h-6V467h-1V468h-1V461h-7V463h-1V464h-5V462h-3V458h-5V465h-8V459h-5V458h-1V465h-2V469h-2V468h-3V474h-3V467h-1V465h-5V472h-4V473h-1V460h-1V471h-4V462h-1V468h-8V469h-1V474h-3V462h-2V459h-3V463h-4V470h-2V459h-1V465h-1V466h-3V468h-1V464h-2V462h-3V466h-1V467h-1V471h-2V472h-1V465h-1V466h-3V460h-3V471h-7V475h-6V476h-1V468h-1V476h-2V477h-3V476h-4V472h-3V473h-2V479h-4V480h-2V490h-2V491h-2V486h-2V483h-2V484h-3V482h-2V483h-1V486h-2V487h-3V484h-2V490h-2V491h-1V490h-1V480h-2V481h-1V482h-2V483h-2V485h-1V487h-2V490h-1V484h-1V496h-1V491h-1V490h-1V492h-1V493h-2V492h-1V485h-3V486h-1V485h-1V486h-4V493h-1V497h-2V498h-1V489h-1V490h-1V497h-3V498h-1V502h-2V497h-2V502h-3V498h-3V494h-2V495h-1V499h-1V500h-3V497h-1V501h-1V512h-2V513h-2V514h-2V505h-1V506h-2V510h-2V511h-1V503h-1V504h-1V505h-1V506h-2V517h-1V518h-2V501h-2V511h-2V512h-1V508h-1V509h-2V511h-1V512h-2V513h-2V515h-1V518h-1V519h-2V524h-2V525h-2V526h-2V510h-2V511h-1V523h-2V524h-1V525h-1V520h-1V526h-1V527h-1V526h-1V529h-2V530h-1V528h-1V525h-1V526h-1V527h-1V532h-1V529h-1V533h-1V531h-1V535h-1V536h-2V537h-1V538h-2V539h-2V534h-1V535h-1V541h-2V542h-1V543h-1V544h-1V541h-2V542h-1V543h-2V544h-1V537h-1V540h-2V541h-1V559h-2V560h-1V545h-1V546h-1V547h-1V552h-1V550h-1V551h-1V566h-2V567h-1V568h-1V569h-1V564h-1V565h-1V551h-1V552h-2V576h-1V577h-1V564h-1V575h-1V573h-1V574h-2V575h-1V577h-2V573h-1V574h-1V589h-1V574h-1V575h-1V576h-1V588h-1V589h-1V587h-1V588h-1V589h-1V590h-1V591h-1V592h-1V593h-1V594h-1V595h-1V597h-1V598h-1V599h-1V600h-1V601h-1V602h-1V604h-1V605h-1V601h-1V602h-1V605h-1V606h-1V615h-1V616h-1V618h-1V611h-1V612h-1V614h-1V615h-1V616h-1V617h-1V619h-1V628h-1V630h-1V632h-1V633h-1V636h-1V638h-1V633h-1V640h-1V642h-1V638h-1V640h-1V642h-1V641h-1V652h-1V654h-1V656h-1V664h-1V660h-1V662h-1V664h-1V666h-1V668h-1V671h-1V669h-1V671h-1V673h-1V676h-1V678h-1V681h-1V685h-1V687h-1V690h-2V692h-1V695h-1V699h-1V702h-1V705h-1V709h-1V712h-1V723h-1V727h-1V730h-1V736h-1V740h-1V742h-1V746h-1V744h-1V749h-1V753h-1V758h-1V762h-1V767h-1V779h-1V784h-1V783h-1V788h-1V793h-1V796h-1V802h-1V807h-1V813h-1V819h-1V832h-2V839h-1V846h-1V855h-1V862h-1V869h-1V876h-1V884h-1V891h-1V900h-1V905h-1V913h-1V922h-1V935h-1V949h-1V959h-1V965h-1V977h-1V988h-1V999h-1V1009h-1V1020h-1V1032h-1V1043h-1V1055h-1V1067h-1V1078h-1V1091h-1V1105h-1V1126h-1V1137h-1V1157h-1V1258h-2V1257h-2V1256h-1Z" fill="#ffa500" stroke="none"/>
<path d="M310,1057h1V1032h1V1008h1V984h1V960h1V937h1V918h1V900h1V882h1V867h1V852h1V838h1V830h1V817h1V804h1V792h1V781h1V767h1V757h1V746h1V736h1V725h1V719h1V709h1V700h1V691h1V683h1V675h1V667h1V660h1V653h1V646h1V640h1V634h1V618h1V612h1V606h1V601h1V596h1V591h1V586h1V591h1V587h1V583h1V579h1V571h1V568h1V556h1V554h1V551h1V548h1V557h1V555h1V552h1V550h1V547h1V538h1V535h1V533h1V531h1V528h1V521h2V519h1V516h1V515h1V513h1V522h1V520h1V518h1V508h1V503h1V501h1V502h1V500h1V499h1V504h1V495h1V502h1V500h1V498h1V497h1V495h1V483h1V481h1V486h1V484h1V481h1V479h1V478h1V477h1V475h1V477h1V476h1V474h1V473h1V472h1V470h1V460h1V468h1V465h1V464h1V468h1V457h1V464h1V462h2V459h1V458h1V448h1V447h1V446h1V453h1V452h1V459h1V455h1V454h1V453h1V438h2V437h1V436h1V435h1V434h1V440h1V439h1V438h2V445h1V438h1V432h1V431h1V436h1V435h1V431h1V432h1V431h1V430h1V426h1V425h1V424h1V428h1V423h1V422h1V421h1V420h2V415h1V414h1V423h2V422h1V426h1V425h1V413h1V412h1V421h1V420h1V410h2V409h1V408h1V416h1V415h1V412h1V411h1V405h1V404h2V403h2V402h2V400h2V399h1V398h2V394h1V404h2V403h2V400h1V399h1V394h2V393h2V400h1V399h2V398h2V394h1V393h3V392h2V395h1V399h1V389h1V388h2V393h3V399h1V398h1V389h1V388h3V384h2V383h3V384h1V390h1V381h2V387h1V378h2V377h3V391h2V390h3V377h3V383h2V382h2V377h2V370h1V384h1V377h2V385h3V384h3V365h1V377h2V376h3V374h1V371h2V370h1V367h2V377h1V369h1V358h3V370h1V376h1V367h1V366h3V372h4V376h1V375h2V365h3V364h3V359h4V364h2V366h1V371h2V358h1V365h1V364h3V356h1V366h1V364h1V356h3V350h6V361h4V371h3V370h3V361h2V360h2V362h1V357h3V359h4V358h2V354h1V353h4V354h4V359h2V353h2V345h3V363h2V362h3V353h1V352h5V355h3V350h1V349h2V346h2V356h1V355h2V351h2V350h1V353h1V347h3V346h2V349h3V348h1V346h1V345h4V342h3V341h1V347h2V346h1V351h2V347h2V346h2V343h1V342h2V348h5V340h1V339h1V336h1V346h5V342h1V335h3V339h1V338h5V337h1V336h5V335h2V334h3V335h3V344h3V337h2V342h2V338h3V336h2V338h6V337h6V334h4V332h6V338h1V329h1V336h5V337h1V338h6V326h2V333h4V335h3V330h1V323h3V325h4V329h2V328h1V327h1V324h3V331h7V330h9V334h1V337h6V335h1V332h1V330h1V334h1V326h4V324h4V330h7V334h2V332h1V330h6V336h1V331h3V329h2V332h3V330h4V328h1V333h6V334h2V320h2V328h2V322h1V321h2V322h5V334h3V333h2V332h1V319h4V318h5V327h1V320h1V330h3V323h1V327h5V325h1V333h1V321h2V322h1V324h6V326h4V324h2V325h3V331h2V327h2V326h2V320h5V321h2V327h3V320h5V314h3V328h1V327h1V318h2V317h1V330h4V323h4V324h4V331h1V326h1V323h6V325h2V323h3V329h5V327h6V330h2V326h2V321h3V325h3V321h1V311h1V321h6V329h2V323h2V320h3V319h3V318h6V334h2V321h1V328h1V315h3V327h3V318h2V312h3V311h2V317h2V325h2V320h6V323h5V322h2V321h1V322h6V321h3V310h6V320h1V326h3V312h1V320h1V313h2V324h1V320h6V329h1V313h1V321h9V322h1V327h2V321h1V310h1V327h1V316h3V319h1V318h2V310h1V312h4V320h1V318h1V324h3V319h5V326h3V319h1V321h3V319h1V317h3V325h5V317h5V322h1V315h5V316h2V319h1V329h5V315h1V321h2V313h2V321h6V307h3V331h3V319h4V327h4V318h6V314h1V320h4V314h1V318h4V309h1V315h6V318h1V317h6V319h5V313h4V312h1V318h2V319h2V316h1V323h1V319h4V320h3V316h3V310h3V325h1V330h6V327h2V323h2V320h5V325h4V317h4V316h1V320h6V313h1V319h3V312h2V313h6V312h3V318h2V330h2V320h4V311h2V321h1V316h3V319h2V316h3V319h1V328h4V321h1V314h1V324h5V323h6V327h3V319h6V323h1V313h1V321h4V332h2V317h6V318h2V319h2V323h1V326h4V327h2V315h3V316h1V313h4V316h2V307h1V308h2V328h2V319h1V323h1V332h3V325h3V326h1V317h2V321h1V327h7V317h5V318h3V323h2V313h5V321h3V320h2V317h3V312h5V319h3V323h2V321h4V315h6V320h3V321h1V331h2V316h3V321h2V322h3V326h3V312h4V323h2V310h1V318h4V324h2V322h2V323h5V315h3V323h2V324h3V321h1V322h2V326h2V314h1V315h1V328h4V316h5V317h1V323h3V328h4V322h4V335h3V327h1V316h3V321h2V320h2V318h6V331h6V326h1V331h2V324h6V328h4V317h1V324h1V325h4V330h1V322h1V321h1V325h4V332h1V326h7V325h6V332h2V327h4V333h3V327h5V320h3V330h1V331h1V326h2V331h1V328h3V325h6V324h4V327h3V321h2V326h4V333h1V328h2V334h1V328h2V326h1V323h2V327h1V334h3V323h1V331h1V332h2V328h3V329h3V330h1V331h2V332h3V342h1V330h6V321h1V324h4V331h1V333h4V339h3V329h6V328h4V329h1V333h1V334h3V335h2V332h5V335h6V326h1V335h2V336h3V340h1V341h2V342h3V339h2V334h2V328h5V333h6V339h4V332h1V328h1V337h1V343h3V344h1V337h1V343h5V331h1V339h1V331h2V348h3V336h8V338h1V339h2V336h3V341h5V338h3V345h1V336h3V345h2V336h2V329h1V341h1V336h6V343h1V334h1V342h4V341h3V346h2V347h1V339h4V340h1V349h1V350h5V337h1V345h1V337h1V348h1V349h4V351h1V352h5V336h1V337h1V347h1V344h1V353h1V354h1V352h1V353h5V356h1V350h2V351h2V353h1V352h2V353h1V341h1V343h2V344h2V356h1V357h5V349h5V350h1V358h1V356h1V350h4V355h3V358h2V359h1V356h3V353h3V354h5V355h1V353h3V361h2V362h1V356h1V357h2V360h3V361h3V363h3V359h1V362h5V363h2V361h2V366h2V365h3V366h1V361h3V362h2V358h1V364h2V365h2V367h4V370h1V372h1V364h1V365h2V366h7V362h2V363h1V370h2V372h3V367h2V368h3V369h1V372h1V365h1V376h1V385h1V364h2V365h1V384h1V370h1V371h1V384h3V385h3V373h1V374h3V375h1V376h2V373h1V369h2V381h2V382h2V376h2V386h2V379h1V388h1V383h1V385h1V380h1V391h2V392h3V393h2V386h5V387h1V391h3V392h1V395h1V396h1V391h2V397h2V398h2V399h1V398h1V399h1V395h1V397h1V406h2V407h2V402h2V403h1V395h1V396h1V403h2V404h1V403h2V404h2V405h1V401h1V402h2V403h1V407h1V408h2V409h1V410h3V411h1V412h2V406h2V407h1V413h1V414h2V415h1V416h2V426h1V429h1V430h1V425h1V415h1V416h1V417h1V421h1V422h1V423h1V424h3V425h1V436h2V433h1V434h1V438h1V426h1V427h1V428h1V429h1V440h1V441h1V442h2V443h1V444h1V446h1V447h1V448h1V449h1V450h1V451h1V446h1V449h1V461h1V462h1V463h1V461h1V462h1V463h1V460h1V461h2V462h1V453h1V454h1V455h1V456h1V461h1V462h1V463h1V465h1V466h1V478h1V479h1V481h1V482h1V484h1V485h1V479h1V483h1V484h2V478h1V480h1V491h1V492h1V494h1V496h1V497h1V499h1V501h1V502h1V504h1V505h1V507h1V509h1V511h1V517h1V519h1V515h1V517h1V512h1V514h1V516h1V518h1V520h1V533h1V535h1V537h1V539h1V542h1V539h1V542h1V547h1V549h1V552h1V555h1V558h1V559h1V561h1V565h1V568h1V572h1V576h1V580h1V589h1V593h1V598h1V603h1V609h1V615h1V621h1V627h1V633h1V639h1V644h1V653h1V660h1V667h1V675h1V682h1V691h1V700h1V706h1V716h1V726h1V736h1V746h1V757h1V767h1V778h1V789h1V793h1V815h1V829h1V845h1V854h1V868h1V883h1V900h1V918h1V938h1V962h1V986h1V1002h1V1031h1V1055h1V1146h-1V1148h-1V1153h-2V1154h-1V1080h-1V1058h-1V1028h-1V1005h-1V981h-1V964h-1V944h-1V926h-1V910h-1V895h-1V881h-1V868h-1V847h-1V834h-1V829h-1V818h-1V807h-1V796h-1V788h-1V778h-1V764h-1V753h-1V740h-2V718h-1V709h-1V700h-1V693h-1V685h-1V678h-1V670h-1V663h-1V657h-1V651h-1V654h-1V648h-1V642h-1V638h-1V625h-1V620h-1V615h-1V613h-1V609h-1V601h-1V596h-1V602h-2V595h-1V591h-1V588h-1V585h-1V582h-1V571h-1V568h-1V565h-1V563h-1V560h-1V555h-1V554h-1V552h-1V549h-1V547h-1V545h-1V553h-1V551h-1V546h-1V544h-1V541h-1V544h-1V543h-1V540h-1V539h-1V531h-1V529h-1V527h-1V525h-1V530h-1V528h-1V526h-1V521h-1V519h-1V518h-1V516h-1V514h-1V503h-1V505h-1V503h-1V506h-1V505h-1V504h-1V502h-1V501h-1V500h-1V498h-1V496h-1V495h-1V494h-1V493h-2V492h-1V491h-1V490h-1V485h-1V486h-1V485h-1V484h-1V486h-1V485h-1V484h-1V483h-1V474h-1V475h-1V474h-1V473h-3V471h-1V477h-1V476h-1V468h-1V467h-1V466h-1V465h-1V464h-1V465h-1V464h-1V463h-1V462h-1V461h-2V454h-1V453h-2V457h-2V463h-1V462h-1V461h-1V460h-1V452h-2V458h-1V457h-1V456h-1V455h-2V458h-1V447h-1V446h-1V445h-2V444h-1V441h-1V440h-1V446h-1V445h-1V441h-1V440h-1V439h-1V449h-2V448h-1V447h-2V446h-1V436h-2V435h-1V434h-2V427h-1V426h-2V425h-2V437h-1V436h-1V435h-2V434h-2V429h-2V431h-1V430h-2V429h-2V428h-1V419h-2V425h-2V424h-2V423h-2V433h-1V432h-1V423h-1V421h-1V420h-2V419h-3V421h-1V428h-3V427h-3V417h-2V413h-2V412h-3V413h-1V412h-2V414h-3V413h-2V415h-3V414h-3V415h-3V414h-3V401h-1V405h-1V413h-2V412h-2V403h-3V402h-3V395h-3V404h-3V403h-3V400h-1V393h-1V392h-2V400h-2V399h-4V386h-2V402h-2V392h-2V391h-2V392h-3V399h-2V392h-3V389h-1V388h-5V401h-1V400h-1V387h-5V386h-1V395h-1V388h-6V389h-3V388h-2V382h-3V397h-2V396h-2V391h-2V385h-3V382h-4V393h-1V396h-1V384h-4V383h-2V393h-3V389h-1V385h-2V381h-1V380h-4V388h-5V387h-2V381h-2V385h-1V383h-2V378h-3V377h-3V382h-1V381h-2V379h-3V383h-1V380h-3V376h-2V372h-1V375h-3V373h-4V378h-2V377h-1V386h-2V385h-1V376h-1V375h-2V371h-1V377h-1V372h-2V387h-3V372h-1V373h-1V372h-2V371h-6V373h-3V372h-2V366h-3V358h-2V372h-1V363h-2V362h-4V371h-2V369h-1V368h-2V366h-1V370h-1V369h-2V368h-1V360h-2V366h-1V365h-2V359h-5V369h-1V370h-3V368h-2V365h-5V368h-2V359h-3V378h-5V369h-1V366h-4V361h-6V371h-1V367h-2V366h-1V354h-3V361h-5V364h-2V366h-1V365h-5V364h-4V362h-3V353h-1V360h-4V359h-2V357h-1V350h-1V363h-1V365h-3V353h-3V359h-1V367h-5V369h-1V357h-2V366h-1V365h-1V369h-4V367h-3V362h-1V351h-4V367h-3V366h-2V357h-3V355h-2V364h-3V362h-2V365h-2V358h-1V357h-1V350h-3V360h-1V359h-4V370h-5V349h-3V353h-2V355h-2V354h-4V360h-6V359h-5V358h-1V363h-5V358h-2V364h-3V358h-1V354h-2V364h-4V360h-2V353h-2V356h-2V350h-2V346h-1V360h-2V359h-1V361h-2V359h-2V355h-2V361h-3V358h-2V355h-3V352h-1V354h-3V346h-4V363h-2V354h-4V353h-2V357h-3V354h-3V344h-3V351h-1V360h-1V353h-1V354h-1V357h-1V358h-1V356h-3V358h-2V357h-4V353h-2V357h-3V347h-4V359h-6V352h-2V360h-6V354h-4V352h-3V345h-5V357h-3V355h-1V361h-4V352h-6V356h-1V355h-2V349h-5V348h-1V347h-5V343h-4V344h-2V356h-5V355h-4V362h-1V351h-4V347h-1V353h-2V347h-1V350h-5V344h-3V362h-3V345h-1V352h-1V348h-3V356h-6V352h-3V344h-2V352h-2V353h-4V349h-1V346h-3V352h-2V349h-2V348h-4V356h-1V355h-2V354h-4V340h-2V345h-6V352h-5V350h-1V339h-2V343h-1V338h-1V345h-2V344h-1V349h-2V353h-5V345h-5V350h-4V345h-1V356h-3V359h-2V355h-4V350h-5V356h-1V342h-3V350h-6V351h-1V356h-1V342h-3V343h-3V355h-3V336h-2V351h-1V346h-6V344h-1V346h-7V352h-3V345h-1V355h-2V346h-6V352h-6V351h-1V346h-1V344h-4V360h-3V343h-5V352h-1V351h-1V344h-6V359h-1V346h-4V343h-6V348h-1V357h-2V342h-4V356h-2V343h-6V340h-6V352h-3V338h-2V347h-3V346h-3V337h-6V341h-3V354h-4V350h-5V340h-3V355h-2V345h-1V348h-4V345h-1V354h-3V339h-1V349h-1V357h-1V347h-3V337h-5V343h-1V344h-2V346h-4V347h-4V348h-5V349h-3V346h-2V353h-3V346h-4V351h-2V341h-1V342h-2V345h-2V342h-6V350h-2V348h-1V347h-6V342h-4V348h-3V347h-1V356h-2V350h-4V343h-5V350h-3V352h-6V357h-3V347h-2V341h-1V351h-1V352h-1V347h-1V349h-3V350h-3V337h-2V350h-3V348h-1V357h-6V351h-2V356h-4V355h-1V350h-3V348h-2V354h-5V343h-3V348h-3V338h-4V350h-6V351h-2V352h-4V347h-2V353h-6V348h-5V349h-5V355h-1V352h-2V359h-3V351h-6V357h-5V350h-2V351h-2V345h-6V360h-1V349h-2V355h-3V353h-3V345h-6V356h-1V358h-6V359h-3V357h-1V358h-7V361h-2V352h-3V345h-1V362h-3V351h-6V342h-2V354h-3V358h-5V355h-2V354h-11V356h-3V350h-1V356h-1V350h-2V358h-2V359h-1V358h-1V359h-4V363h-4V353h-3V349h-3V356h-3V352h-4V356h-5V359h-1V364h-1V358h-1V354h-5V360h-5V365h-1V361h-4V360h-3V357h-2V358h-4V356h-7V360h-3V352h-3V362h-2V363h-1V358h-1V362h-2V363h-1V366h-1V371h-3V361h-2V367h-3V360h-2V355h-1V362h-1V359h-1V360h-3V353h-5V360h-3V364h-4V374h-3V375h-2V357h-1V358h-2V366h-6V361h-1V366h-3V364h-6V360h-2V368h-2V357h-1V354h-5V355h-1V359h-2V360h-4V368h-1V362h-6V366h-4V368h-1V359h-3V364h-4V365h-2V363h-3V362h-6V366h-5V370h-2V367h-2V362h-3V364h-2V367h-3V365h-4V366h-1V367h-1V368h-2V382h-1V383h-1V366h-3V378h-2V374h-2V375h-1V363h-3V364h-2V376h-6V380h-3V370h-2V371h-4V369h-3V370h-2V375h-2V376h-1V382h-1V375h-2V377h-1V383h-1V384h-3V367h-1V368h-2V376h-3V382h-3V383h-2V384h-1V379h-1V380h-3V381h-4V377h-1V391h-2V392h-1V390h-4V391h-2V381h-1V385h-4V383h-1V382h-3V396h-1V397h-4V390h-2V391h-2V392h-5V386h-2V387h-1V396h-2V386h-1V387h-2V393h-1V380h-1V381h-5V389h-4V390h-2V395h-4V387h-1V398h-2V399h-3V393h-2V392h-3V398h-1V393h-3V394h-2V397h-1V398h-2V407h-1V408h-2V400h-2V397h-2V406h-1V393h-1V398h-1V399h-2V396h-1V394h-2V402h-1V403h-2V398h-2V397h-2V398h-1V401h-3V402h-4V408h-1V409h-2V407h-1V401h-2V399h-1V400h-1V405h-1V411h-3V404h-3V400h-1V401h-3V402h-1V414h-1V403h-3V414h-1V415h-2V408h-1V409h-1V416h-3V417h-1V415h-1V416h-1V415h-2V416h-1V411h-1V412h-2V413h-3V425h-1V426h-2V421h-3V422h-1V421h-2V422h-2V423h-2V420h-1V421h-1V422h-2V432h-2V433h-1V422h-1V421h-2V422h-2V423h-1V421h-1V422h-1V427h-2V428h-2V429h-3V430h-2V442h-1V443h-2V433h-1V438h-1V439h-1V434h-1V435h-2V439h-1V440h-1V441h-1V442h-2V443h-2V441h-1V444h-1V445h-2V446h-1V447h-1V451h-2V452h-3V446h-1V450h-1V457h-1V458h-1V459h-1V450h-2V451h-1V455h-1V456h-1V457h-1V458h-2V459h-1V458h-1V459h-1V460h-1V461h-1V456h-1V457h-1V458h-1V468h-1V469h-1V470h-1V471h-1V472h-1V473h-1V475h-1V476h-1V477h-1V478h-2V482h-2V484h-1V481h-2V482h-1V483h-1V484h-1V480h-1V482h-2V484h-1V485h-1V496h-1V497h-1V498h-1V500h-1V501h-2V502h-1V504h-1V505h-1V513h-1V497h-1V499h-1V500h-1V501h-1V503h-1V504h-1V507h-1V502h-1V518h-1V520h-1V521h-1V522h-1V524h-2V525h-1V527h-1V529h-1V540h-1V542h-1V544h-1V546h-1V548h-1V550h-1V538h-1V540h-1V542h-1V544h-1V547h-1V551h-1V553h-1V555h-1V558h-1V560h-1V571h-2V574h-1V577h-1V579h-1V582h-1V584h-1V595h-1V599h-1V602h-1V595h-1V599h-1V604h-1V608h-1V613h-1V620h-1V614h-1V619h-1V633h-1V638h-1V644h-1V650h-1V656h-1V672h-1V678h-1V685h-1V680h-1V691h-1V699h-1V707h-1V715h-1V724h-1V728h-1V738h-1V748h-1V760h-1V773h-1V783h-1V794h-1V804h-1V815h-1V827h-1V841h-1V855h-1V868h-1V878h-1V892h-1V914h-1V930h-1V948h-1V967h-1V990h-1V1014h-1V1030h-1V1053h-1V1084h-1V1157h-2V1156h-1V1155h-2Z" fill="#ff0000" stroke="none"/>
<path d="M262.0,1462.0L310.4,1462.0L316.9,1361.2L318.8,1339.0L321.6,1311.4L324.9,1283.3L333.7,1217.6L340.3,1161.0L350.0,1082.9L361.7,981.3L365.1,955.1L369.3,928.4L375.0,897.1L381.7,863.8L389.2,829.6L395.2,804.3L400.8,783.5L406.3,765.6L412.2,748.9L418.0,734.8L424.1,721.9L430.4,710.5L437.0,700.3L443.9,691.4L451.1,683.8L458.6,677.4L466.5,672.2L474.8,668.0L483.7,664.6L493.7,661.9L504.8,659.9L517.7,658.3L532.8,657.2L549.5,656.7L570.5,656.5L626.6,656.9L687.1,658.0L784.3,658.5L900.3,658.7L1773.9,658.6L1881.9,657.9L1942.4,656.8L2005.2,656.5L2035.0,657.4L2047.5,658.3L2058.5,659.6L2068.4,661.3L2077.0,663.3L2084.8,665.8L2092.0,668.8L2100.0,673.1L2107.3,678.2L2114.3,684.2L2121.1,691.4L2127.5,699.7L2133.8,709.3L2139.8,719.9L2145.7,731.8L2150.9,744.0L2155.8,757.1L2160.5,771.1L2165.0,786.2L2169.5,803.4L2174.4,823.5L2185.4,873.8L2194.8,923.2L2198.2,943.9L2201.0,963.5L2215.3,1084.9L2224.7,1161.0L2231.3,1217.6L2241.8,1296.7L2245.4,1330.3L2247.8,1357.4L2254.6,1462.0L2303.0,1462.0" stroke="#0000ff" stroke-width="10.4"/>
<path d="M262.0,1354.9L312.7,1354.9L312.2,1339.9L312.7,1327.6L316.4,1249.9L319.2,1206.5L322.4,1172.4L329.4,1107.0L338.7,1029.6L343.4,993.6L347.7,964.7L352.3,937.3L357.2,911.3L362.1,888.8L367.7,866.2L373.8,844.0L380.5,822.3L392.8,786.8L403.1,760.8L408.6,748.4L414.4,736.5L420.5,725.0L427.0,713.7L434.7,701.4L443.1,689.0L452.9,675.6L463.5,662.0L473.0,650.5L482.5,639.9L491.5,630.5L500.4,622.1L508.5,615.3L516.5,609.2L525.0,603.5L533.6,598.3L542.7,593.5L552.3,589.0L562.3,584.9L573.1,581.1L585.8,577.1L600.0,573.2L614.0,569.7L628.2,566.7L660.9,561.1L697.8,556.3L724.2,553.8L752.4,552.2L788.6,550.9L843.4,549.6L932.4,549.3L1164.4,549.3L1205.6,549.4L1281.1,550.2L1377.9,549.3L1701.6,549.4L1734.9,549.9L1782.8,551.1L1811.3,552.1L1834.1,553.3L1868.2,556.4L1904.9,561.2L1936.6,566.7L1950.5,569.6L1964.3,573.0L1977.8,576.7L1990.2,580.5L2001.1,584.3L2011.1,588.3L2020.7,592.7L2030.1,597.6L2039.1,602.9L2047.5,608.5L2057.1,615.8L2066.6,624.0L2076.3,633.4L2086.4,644.1L2097.1,656.6L2108.1,670.4L2119.2,685.2L2128.8,699.1L2136.4,710.9L2143.4,723.0L2150.1,735.4L2156.3,748.2L2162.0,761.0L2167.5,774.4L2179.6,807.8L2187.2,830.9L2193.7,852.7L2199.8,875.9L2205.2,899.0L2210.2,923.3L2215.3,952.1L2219.3,978.1L2223.9,1011.0L2234.3,1094.8L2242.0,1166.7L2245.5,1202.8L2248.6,1248.2L2252.1,1324.9L2252.8,1339.9L2252.3,1354.9L2303.0,1354.9" stroke="#008b00" stroke-width="10.4"/>
<path d="M262.0,1247.8L312.8,1247.8L312.3,1232.8L315.6,1149.1L318.3,1101.4L323.6,1032.1L330.5,955.1L334.6,914.6L338.0,886.0L341.7,858.3L346.2,828.6L350.6,803.5L355.0,781.4L359.8,760.3L365.1,739.7L370.5,721.2L374.9,708.0L379.8,694.9L385.6,681.0L392.1,666.4L398.7,652.7L405.4,639.9L412.2,627.9L419.1,616.6L426.0,606.4L432.9,597.0L440.3,587.8L447.9,579.1L455.8,570.7L464.5,562.4L473.8,554.1L483.3,546.3L494.0,538.2L505.2,530.5L516.6,523.4L529.1,516.2L544.4,508.1L560.3,500.4L575.2,493.7L588.7,488.3L599.6,484.5L610.8,481.1L622.9,477.9L636.6,474.8L668.8,468.8L706.4,463.3L759.2,457.0L817.7,451.4L856.6,448.8L916.5,445.8L980.0,443.7L1023.0,442.8L1282.0,440.9L1541.7,442.8L1584.7,443.7L1648.0,445.8L1707.9,448.8L1747.0,451.4L1805.5,456.9L1858.1,463.2L1895.9,468.8L1928.1,474.8L1941.8,477.9L1954.2,481.1L1965.4,484.5L1976.3,488.3L1989.8,493.7L2004.7,500.4L2020.6,508.1L2035.9,516.2L2048.4,523.4L2059.8,530.5L2071.0,538.2L2081.7,546.3L2091.2,554.1L2100.5,562.4L2109.2,570.7L2117.1,579.1L2124.7,587.8L2132.1,597.0L2139.0,606.4L2145.9,616.6L2152.8,627.9L2159.6,639.9L2166.3,652.7L2172.9,666.4L2179.4,681.0L2185.2,694.9L2190.1,708.0L2194.5,721.2L2199.9,739.7L2205.2,760.3L2210.0,781.4L2214.4,803.5L2218.8,828.6L2223.3,858.3L2227.0,886.0L2230.4,914.6L2234.5,955.1L2241.4,1032.1L2246.7,1101.4L2249.4,1149.1L2252.7,1232.8L2252.2,1247.8L2303.0,1247.8" stroke="#67074a" stroke-width="10.4"/>
<path d="M262.0,1140.7L312.6,1142.1L312.3,1127.1L313.0,1103.8L319.7,947.5L323.3,887.3L329.6,804.3L336.4,737.6L339.4,712.5L342.4,691.2L346.4,667.0L351.3,641.3L355.8,620.7L360.3,603.3L366.9,582.6L370.7,572.8L374.8,563.2L379.3,553.8L384.3,544.3L389.5,535.2L395.1,526.4L400.8,518.2L406.9,510.3L413.2,502.6L420.0,495.0L427.4,487.4L435.2,480.0L451.6,466.0L462.8,457.6L474.4,449.7L486.8,442.1L499.8,435.0L513.9,428.0L528.8,421.3L544.3,415.0L560.8,409.0L578.1,403.3L596.6,397.8L615.1,392.8L634.5,388.0L656.2,383.2L679.8,378.5L703.1,374.2L728.2,370.1L780.1,362.6L810.6,358.7L833.7,356.1L890.0,351.0L985.7,343.7L1033.2,341.6L1128.6,339.2L1199.4,337.8L1252.6,335.3L1281.9,334.8L1311.9,335.3L1365.6,337.8L1436.4,339.2L1531.3,341.6L1579.0,343.7L1674.8,351.0L1730.8,356.1L1753.9,358.6L1783.9,362.4L1836.0,370.0L1861.4,374.2L1884.8,378.4L1908.3,383.1L1930.0,387.9L1949.4,392.6L1968.2,397.7L1986.6,403.2L2004.0,409.0L2020.2,414.9L2036.0,421.2L2050.9,427.9L2064.8,434.7L2077.8,441.9L2090.2,449.4L2102.0,457.4L2113.3,465.9L2129.7,479.8L2137.5,487.2L2144.8,494.8L2151.6,502.4L2158.0,510.1L2164.0,518.0L2169.9,526.4L2175.5,535.2L2180.7,544.3L2185.7,553.8L2190.2,563.2L2194.3,572.8L2198.1,582.6L2204.7,603.3L2209.2,620.7L2213.7,641.3L2218.6,667.0L2222.6,691.2L2225.6,712.5L2228.6,737.6L2235.4,804.3L2241.7,887.3L2245.3,947.5L2252.0,1103.8L2252.7,1127.1L2252.4,1142.1L2303.0,1140.7" stroke="#9400d3" stroke-width="10.4"/>
</g>
<rect x="262" y="34" width="2041" height="1428" fill="none" stroke="#000" stroke-width="4"/>
<path d="M262.0,1462v-41 M517.1,1462v-20 M772.2,1462v-41 M1027.4,1462v-20 M1282.5,1462v-41 M1537.6,1462v-20 M1792.8,1462v-41 M2047.9,1462v-20 M2303.0,1462v-41 M262,1462.0h41 M262,1283.5h20 M262,1105.0h41 M262,926.5h20 M262,748.0h41 M262,569.5h20 M262,391.0h41 M262,212.5h20 M262,34.0h41" stroke="#000" stroke-width="4" fill="none"/>
<g font-family="Liberation Serif, serif" font-size="61" fill="#000">
<text x="263.0" y="1521.7" text-anchor="middle">0</text>
<text x="773.2" y="1521.7" text-anchor="middle">10</text>
<text x="1283.5" y="1521.7" text-anchor="middle">20</text>
<text x="1793.8" y="1521.7" text-anchor="middle">30</text>
<text x="2304.0" y="1521.7" text-anchor="middle">40</text>
<text x="244.0" y="1482.1" text-anchor="end" letter-spacing="-1.8">0</text>
<text x="244.0" y="1125.1" text-anchor="end" letter-spacing="-1.8">0.05</text>
<text x="244.0" y="768.1" text-anchor="end" letter-spacing="-1.8">0.1</text>
<text x="244.0" y="411.1" text-anchor="end" letter-spacing="-1.8">0.15</text>
<text x="244.0" y="54.1" text-anchor="end" letter-spacing="-1.8">0.2</text>
</g>
<text x="1284" y="1597" font-family="Liberation Serif, serif" font-size="121" text-anchor="middle">z</text>
<text transform="translate(97,850.6) rotate(-90)" font-family="Liberation Serif, serif" font-size="124"><tspan font-family="DejaVu Serif, serif">ρ</tspan><tspan dx="0">(z)</tspan></text>
<text x="399.2" y="206.5" font-family="Liberation Serif, serif" font-size="124">(a)</text>
<text x="1530" y="199" font-family="Liberation Serif, serif" font-size="120">N=32, ρ=0.10</text>
<rect x="937" y="750" width="803" height="352" fill="#fff" stroke="#000" stroke-width="4"/>
<path d="M959,802.0H1041" stroke="#40e0d0" stroke-width="4"/>
<text x="1081.5" y="810.0" font-family="Liberation Serif, serif" font-size="58">MD (ε<tspan font-size="40.5" dy="23.3">b</tspan><tspan dy="-23.3">=1), ρ</tspan><tspan font-size="40.5" dy="23.3">middle</tspan><tspan dy="-23.3">=0.1116</tspan></text>
<path d="M959,884.7H1041" stroke="#00ff00" stroke-width="4"/>
<text x="1081.5" y="892.7" font-family="Liberation Serif, serif" font-size="58">MD (ε<tspan font-size="40.5" dy="23.3">b</tspan><tspan dy="-23.3">=5), ρ</tspan><tspan font-size="40.5" dy="23.3">middle</tspan><tspan dy="-23.3">=0.1119</tspan></text>
<path d="M959,967.4H1041" stroke="#ffa500" stroke-width="4"/>
<text x="1081.5" y="975.4" font-family="Liberation Serif, serif" font-size="58">MD (ε<tspan font-size="40.5" dy="23.3">b</tspan><tspan dy="-23.3">=10), ρ</tspan><tspan font-size="40.5" dy="23.3">middle</tspan><tspan dy="-23.3">=0.1138</tspan></text>
<path d="M959,1050.1H1041" stroke="#ff0000" stroke-width="4"/>
<text x="1081.5" y="1058.1" font-family="Liberation Serif, serif" font-size="58">MD (ε<tspan font-size="40.5" dy="23.3">b</tspan><tspan dy="-23.3">=30), ρ</tspan><tspan font-size="40.5" dy="23.3">middle</tspan><tspan dy="-23.3">=0.1134</tspan></text>
</svg>
</body></html>
